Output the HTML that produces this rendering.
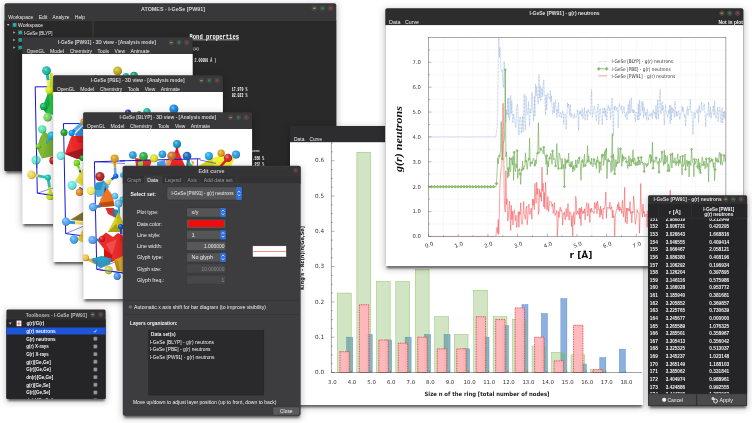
<!DOCTYPE html><html><head><meta charset="utf-8"><title>ATOMES</title><style>html,body{margin:0;padding:0;background:#fff;overflow:hidden}svg{display:block}</style></head><body>
<svg width="752" height="423" viewBox="0 0 752 423">
<defs><filter id="sh" x="-10%" y="-10%" width="120%" height="120%"><feGaussianBlur stdDeviation="1.3"/></filter><filter id="sh2" x="-10%" y="-10%" width="120%" height="120%"><feGaussianBlur stdDeviation="3.5"/></filter><radialGradient id="sph" cx="0.38" cy="0.35" r="0.7"><stop offset="0" stop-color="#fff" stop-opacity="0.45"/><stop offset="0.45" stop-color="#fff" stop-opacity="0"/><stop offset="0.8" stop-color="#000" stop-opacity="0.12"/><stop offset="1" stop-color="#000" stop-opacity="0.4"/></radialGradient></defs>
<rect x="0.00" y="0.00" width="752.00" height="423.00" fill="#fff" />
<rect x="3.50" y="4.20" width="333.70" height="169.80" fill="#000" opacity="0.22" filter="url(#sh2)"/>
<rect x="6.00" y="5.20" width="329.20" height="168.00" fill="#000" opacity="0.55" filter="url(#sh)"/>
<rect x="4.5" y="3.2" width="331.7" height="167.8" rx="2" fill="#38383a"/>
<rect x="4.50" y="20.40" width="331.70" height="150.60" fill="#29292a" />
<rect x="4.50" y="20.10" width="331.70" height="0.50" fill="#454547" />
<rect x="92.40" y="20.60" width="1.20" height="150.40" fill="#3c3c3e" />
<text x="173.00" y="10.80" font-size="6.1" fill="#d4d4d4" text-anchor="middle" font-weight="bold" font-family='"Liberation Sans", sans-serif' textLength="64.00" lengthAdjust="spacingAndGlyphs" >ATOMES - l-GeSe [PW91]</text>
<circle cx="314.40" cy="8.20" r="2.65" fill="#424244" stroke="#525256" stroke-width="0.45"/>
<rect x="313.07" y="7.54" width="2.65" height="1.46" fill="#a88a34"/>
<circle cx="322.50" cy="8.20" r="2.65" fill="#424244" stroke="#525256" stroke-width="0.45"/>
<circle cx="322.50" cy="8.20" r="1.22" fill="#2f8f3a"/>
<circle cx="330.50" cy="8.20" r="2.65" fill="#424244" stroke="#525256" stroke-width="0.45"/>
<circle cx="330.50" cy="8.20" r="1.22" fill="#b0323a"/>
<text x="8.30" y="18.90" font-size="6.1" fill="#ececec" text-anchor="start" font-weight="normal" font-family='"Liberation Sans", sans-serif' textLength="24.90" lengthAdjust="spacingAndGlyphs" >Workspace</text>
<text x="38.80" y="18.90" font-size="6.1" fill="#ececec" text-anchor="start" font-weight="normal" font-family='"Liberation Sans", sans-serif' textLength="8.60" lengthAdjust="spacingAndGlyphs" >Edit</text>
<text x="52.60" y="18.90" font-size="6.1" fill="#ececec" text-anchor="start" font-weight="normal" font-family='"Liberation Sans", sans-serif' textLength="16.90" lengthAdjust="spacingAndGlyphs" >Analyze</text>
<text x="74.80" y="18.90" font-size="6.1" fill="#ececec" text-anchor="start" font-weight="normal" font-family='"Liberation Sans", sans-serif' textLength="10.20" lengthAdjust="spacingAndGlyphs" >Help</text>
<path d="M6.8 24 L9.6 24 L8.2 26 Z" fill="#bbb"/>
<circle cx="14.6" cy="24.9" r="2.1" fill="#18b0b0"/>
<circle cx="12.7" cy="23.0" r="0.6" fill="#c03030"/>
<circle cx="16.5" cy="23.0" r="0.6" fill="#c03030"/>
<circle cx="12.7" cy="26.799999999999997" r="0.6" fill="#c03030"/>
<circle cx="16.5" cy="26.799999999999997" r="0.6" fill="#c03030"/>
<text x="18.00" y="27.00" font-size="6.1" fill="#f0f0f0" text-anchor="start" font-weight="normal" font-family='"Liberation Sans", sans-serif' textLength="25.00" lengthAdjust="spacingAndGlyphs" >Workspace</text>
<path d="M13.3 31.2 L15.3 32.5 L13.3 33.8 Z" fill="#bbb"/>
<circle cx="20.3" cy="32.5" r="2.1" fill="#18b0b0"/>
<circle cx="18.400000000000002" cy="30.6" r="0.6" fill="#c03030"/>
<circle cx="22.2" cy="30.6" r="0.6" fill="#c03030"/>
<circle cx="18.400000000000002" cy="34.4" r="0.6" fill="#c03030"/>
<circle cx="22.2" cy="34.4" r="0.6" fill="#c03030"/>
<path d="M13.3 38.7 L15.3 40 L13.3 41.3 Z" fill="#bbb"/>
<circle cx="20.3" cy="40" r="2.1" fill="#18b0b0"/>
<circle cx="18.400000000000002" cy="38.1" r="0.6" fill="#c03030"/>
<circle cx="22.2" cy="38.1" r="0.6" fill="#c03030"/>
<circle cx="18.400000000000002" cy="41.9" r="0.6" fill="#c03030"/>
<circle cx="22.2" cy="41.9" r="0.6" fill="#c03030"/>
<path d="M13.3 46.2 L15.3 47.5 L13.3 48.8 Z" fill="#bbb"/>
<circle cx="20.3" cy="47.5" r="2.1" fill="#18b0b0"/>
<circle cx="18.400000000000002" cy="45.6" r="0.6" fill="#c03030"/>
<circle cx="22.2" cy="45.6" r="0.6" fill="#c03030"/>
<circle cx="18.400000000000002" cy="49.4" r="0.6" fill="#c03030"/>
<circle cx="22.2" cy="49.4" r="0.6" fill="#c03030"/>
<text x="24.00" y="34.60" font-size="6.1" fill="#f0f0f0" text-anchor="start" font-weight="normal" font-family='"Liberation Sans", sans-serif' textLength="28.50" lengthAdjust="spacingAndGlyphs" >l-GeSe [BLYP]</text>
<text x="189.50" y="38.90" font-size="7" fill="#ffffff" text-anchor="start" font-weight="bold" font-family='"Liberation Mono", "DejaVu Sans Mono", monospace' textLength="49.50" lengthAdjust="spacingAndGlyphs" >Bond properties</text>
<rect x="189.50" y="39.60" width="49.50" height="0.60" fill="#f4f4f4" />
<text x="193.00" y="49.80" font-size="4.4" fill="#eee" text-anchor="start" font-weight="bold" font-family='"Liberation Mono", "DejaVu Sans Mono", monospace' textLength="6.00" lengthAdjust="spacingAndGlyphs" >(Å)</text>
<text x="194.50" y="61.80" font-size="4.6" fill="#eee" text-anchor="start" font-weight="bold" font-family='"Liberation Mono", "DejaVu Sans Mono", monospace' textLength="21.70" lengthAdjust="spacingAndGlyphs" >2.00000 Å )</text>
<text x="231.70" y="91.00" font-size="4.6" fill="#fff" text-anchor="start" font-weight="bold" font-family='"Liberation Mono", "DejaVu Sans Mono", monospace' textLength="15.70" lengthAdjust="spacingAndGlyphs" >17.979 %</text>
<text x="231.70" y="96.80" font-size="4.6" fill="#fff" text-anchor="start" font-weight="bold" font-family='"Liberation Mono", "DejaVu Sans Mono", monospace' textLength="15.70" lengthAdjust="spacingAndGlyphs" >82.022 %</text>
<text x="252.00" y="151.60" font-size="4.4" fill="#eee" text-anchor="start" font-weight="bold" font-family='"Liberation Mono", "DejaVu Sans Mono", monospace' textLength="8.00" lengthAdjust="spacingAndGlyphs" >cent</text>
<text x="252.60" y="160.00" font-size="4.6" fill="#fff" text-anchor="start" font-weight="bold" font-family='"Liberation Mono", "DejaVu Sans Mono", monospace' textLength="11.50" lengthAdjust="spacingAndGlyphs" >.556 %</text>
<text x="252.60" y="165.60" font-size="4.6" fill="#fff" text-anchor="start" font-weight="bold" font-family='"Liberation Mono", "DejaVu Sans Mono", monospace' textLength="11.50" lengthAdjust="spacingAndGlyphs" >.852 %</text>
<rect x="21.10" y="38.30" width="172.60" height="188.70" fill="#000" opacity="0.22" filter="url(#sh2)"/>
<rect x="23.60" y="39.30" width="168.10" height="186.90" fill="#000" opacity="0.55" filter="url(#sh)"/>
<rect x="22.1" y="37.3" width="170.6" height="186.7" rx="1.5" fill="#38383a"/>
<rect x="22.10" y="54.00" width="170.60" height="170.00" fill="#fff" />
<text x="106.90" y="44.30" font-size="6.1" fill="#d0d0d0" text-anchor="middle" font-weight="bold" font-family='"Liberation Sans", sans-serif' textLength="98.00" lengthAdjust="spacingAndGlyphs" >l-GeSe [PW91] - 3D view - [Analysis mode]</text>
<circle cx="171.20" cy="42.50" r="2.45" fill="#424244" stroke="#525256" stroke-width="0.45"/>
<rect x="169.97" y="41.89" width="2.45" height="1.35" fill="#a88a34"/>
<circle cx="179.00" cy="42.50" r="2.45" fill="#424244" stroke="#525256" stroke-width="0.45"/>
<circle cx="179.00" cy="42.50" r="1.13" fill="#2f8f3a"/>
<circle cx="186.70" cy="42.50" r="2.45" fill="#424244" stroke="#525256" stroke-width="0.45"/>
<circle cx="186.70" cy="42.50" r="1.13" fill="#b0323a"/>
<text x="26.80" y="52.60" font-size="6.1" fill="#ececec" text-anchor="start" font-weight="normal" font-family='"Liberation Sans", sans-serif' textLength="18.00" lengthAdjust="spacingAndGlyphs" >OpenGL</text>
<text x="50.10" y="52.60" font-size="6.1" fill="#ececec" text-anchor="start" font-weight="normal" font-family='"Liberation Sans", sans-serif' textLength="14.00" lengthAdjust="spacingAndGlyphs" >Model</text>
<text x="69.70" y="52.60" font-size="6.1" fill="#ececec" text-anchor="start" font-weight="normal" font-family='"Liberation Sans", sans-serif' textLength="22.30" lengthAdjust="spacingAndGlyphs" >Chemistry</text>
<text x="97.60" y="52.60" font-size="6.1" fill="#ececec" text-anchor="start" font-weight="normal" font-family='"Liberation Sans", sans-serif' textLength="11.40" lengthAdjust="spacingAndGlyphs" >Tools</text>
<text x="114.60" y="52.60" font-size="6.1" fill="#ececec" text-anchor="start" font-weight="normal" font-family='"Liberation Sans", sans-serif' textLength="10.50" lengthAdjust="spacingAndGlyphs" >View</text>
<text x="130.50" y="52.60" font-size="6.1" fill="#ececec" text-anchor="start" font-weight="normal" font-family='"Liberation Sans", sans-serif' textLength="19.30" lengthAdjust="spacingAndGlyphs" >Animate</text>
<clipPath id="cl1"><rect x="22.1" y="54.0" width="170.6" height="170.0"/></clipPath><g clip-path="url(#cl1)">
<polyline points="54,86.8 35.2,86.8 37.3,193.2 54,195.6" fill="none" stroke="#1616dc" stroke-width="1.0"/>
<polyline points="37.3,193.2 54,187.6" fill="none" stroke="#1616dc" stroke-width="0.5"/>
<line x1="51" y1="73" x2="51.5" y2="86.5" stroke="#c8e828" stroke-width="3.2"/>
<line x1="51.5" y1="86.5" x2="52" y2="100" stroke="#e0f020" stroke-width="3.2"/>
<line x1="46.8" y1="71" x2="48.0" y2="80.3" stroke="#28b0b0" stroke-width="2.8"/>
<line x1="48.0" y1="80.3" x2="49" y2="88" stroke="#f0f060" stroke-width="2.8"/>
<circle cx="46.5" cy="70.6" r="4.4" fill="#20b8a8"/>
<circle cx="46.5" cy="70.6" r="4.4" fill="url(#sph)"/>
<polygon points="48,93 52,93 54,100 54,115 47,114 42,108 46,102" fill="#18c038" opacity="0.9"/>
<polygon points="48,93 50,104 46,113 42,108" fill="#10a848" opacity="0.9"/>
<circle cx="49.6" cy="90.0" r="4.2" fill="#dcf010"/>
<circle cx="49.6" cy="90.0" r="4.2" fill="url(#sph)"/>
<circle cx="43.6" cy="106.4" r="3.6" fill="#10b050"/>
<circle cx="43.6" cy="106.4" r="3.6" fill="url(#sph)"/>
<circle cx="47.6" cy="117.2" r="4.3" fill="#78d860"/>
<circle cx="47.6" cy="117.2" r="4.3" fill="url(#sph)"/>
<circle cx="42.2" cy="129.3" r="4.1" fill="#58e8b0"/>
<circle cx="42.2" cy="129.3" r="4.1" fill="url(#sph)"/>
<polygon points="44,131 54,139 54,156 42,158.5 37,148 40,138" fill="#68a820" opacity="0.9"/>
<polygon points="44,131 47,145 42,158.5 37,148" fill="#82ba34" opacity="0.9"/>
<line x1="47" y1="143" x2="51" y2="137" stroke="#30a0d0" stroke-width="2" stroke-linecap="round"/>
<circle cx="51.7" cy="135.5" r="4.1" fill="#18c0e8"/>
<circle cx="51.7" cy="135.5" r="4.1" fill="url(#sph)"/>
<circle cx="38.5" cy="146.0" r="2.6" fill="#78c820"/>
<circle cx="38.5" cy="146.0" r="2.6" fill="url(#sph)"/>
<circle cx="36.0" cy="160.0" r="4.6" fill="#68e8c8"/>
<circle cx="36.0" cy="160.0" r="4.6" fill="url(#sph)"/>
<polyline points="36.6,152 36.9,168" fill="none" stroke="#1616dc" stroke-width="0.7"/>
<circle cx="53.4" cy="160.5" r="4" fill="#d81818"/>
<circle cx="53.4" cy="160.5" r="4" fill="url(#sph)"/>
<line x1="31.4" y1="174.8" x2="38.0" y2="175.9" stroke="#f0d050" stroke-width="2.8"/>
<line x1="38.0" y1="175.9" x2="47.9" y2="177.6" stroke="#30c0b0" stroke-width="2.8"/>
<line x1="47.9" y1="177.6" x2="49.5" y2="187.4" stroke="#30c0b0" stroke-width="2.8"/>
<line x1="49.5" y1="187.4" x2="50.6" y2="194" stroke="#d0e020" stroke-width="2.8"/>
<circle cx="31.4" cy="174.8" r="4.3" fill="#f0d458"/>
<circle cx="31.4" cy="174.8" r="4.3" fill="url(#sph)"/>
<circle cx="47.9" cy="177.6" r="3" fill="#18c8b8"/>
<circle cx="47.9" cy="177.6" r="3" fill="url(#sph)"/>
<circle cx="50.3" cy="196.0" r="4.1" fill="#d0e818"/>
<circle cx="50.3" cy="196.0" r="4.1" fill="url(#sph)"/>
<polyline points="44,194.2 54,195.6" fill="none" stroke="#1616dc" stroke-width="0.7"/>
<circle cx="117.6" cy="70.9" r="4.4" fill="#c8b020"/>
<circle cx="117.6" cy="70.9" r="4.4" fill="url(#sph)"/>
<circle cx="126.0" cy="76.0" r="3.1" fill="#20b890"/>
<circle cx="126.0" cy="76.0" r="3.1" fill="url(#sph)"/>
<circle cx="134.0" cy="75.6" r="3.8" fill="#18a878"/>
<circle cx="134.0" cy="75.6" r="3.8" fill="url(#sph)"/>
<circle cx="95.4" cy="76.6" r="1.8" fill="#30c0a0"/>
<circle cx="95.4" cy="76.6" r="1.8" fill="url(#sph)"/>
</g>
<rect x="52.10" y="76.30" width="171.80" height="188.70" fill="#000" opacity="0.22" filter="url(#sh2)"/>
<rect x="54.60" y="77.30" width="167.30" height="186.90" fill="#000" opacity="0.55" filter="url(#sh)"/>
<rect x="53.1" y="75.3" width="169.8" height="186.7" rx="1.5" fill="#38383a"/>
<rect x="53.10" y="92.00" width="169.80" height="170.00" fill="#fff" />
<text x="137.75" y="82.30" font-size="6.1" fill="#d0d0d0" text-anchor="middle" font-weight="bold" font-family='"Liberation Sans", sans-serif' textLength="93.70" lengthAdjust="spacingAndGlyphs" >l-GeSe [PBE] - 3D view - [Analysis mode]</text>
<circle cx="201.40" cy="80.50" r="2.45" fill="#424244" stroke="#525256" stroke-width="0.45"/>
<rect x="200.18" y="79.89" width="2.45" height="1.35" fill="#a88a34"/>
<circle cx="209.20" cy="80.50" r="2.45" fill="#424244" stroke="#525256" stroke-width="0.45"/>
<circle cx="209.20" cy="80.50" r="1.13" fill="#2f8f3a"/>
<circle cx="216.90" cy="80.50" r="2.45" fill="#424244" stroke="#525256" stroke-width="0.45"/>
<circle cx="216.90" cy="80.50" r="1.13" fill="#b0323a"/>
<text x="57.00" y="90.60" font-size="6.1" fill="#ececec" text-anchor="start" font-weight="normal" font-family='"Liberation Sans", sans-serif' textLength="18.00" lengthAdjust="spacingAndGlyphs" >OpenGL</text>
<text x="80.30" y="90.60" font-size="6.1" fill="#ececec" text-anchor="start" font-weight="normal" font-family='"Liberation Sans", sans-serif' textLength="14.00" lengthAdjust="spacingAndGlyphs" >Model</text>
<text x="99.90" y="90.60" font-size="6.1" fill="#ececec" text-anchor="start" font-weight="normal" font-family='"Liberation Sans", sans-serif' textLength="22.30" lengthAdjust="spacingAndGlyphs" >Chemistry</text>
<text x="127.80" y="90.60" font-size="6.1" fill="#ececec" text-anchor="start" font-weight="normal" font-family='"Liberation Sans", sans-serif' textLength="11.40" lengthAdjust="spacingAndGlyphs" >Tools</text>
<text x="144.80" y="90.60" font-size="6.1" fill="#ececec" text-anchor="start" font-weight="normal" font-family='"Liberation Sans", sans-serif' textLength="10.50" lengthAdjust="spacingAndGlyphs" >View</text>
<text x="160.70" y="90.60" font-size="6.1" fill="#ececec" text-anchor="start" font-weight="normal" font-family='"Liberation Sans", sans-serif' textLength="19.30" lengthAdjust="spacingAndGlyphs" >Animate</text>
<clipPath id="cl2"><rect x="53.1" y="92.0" width="169.8" height="170.0"/></clipPath><g clip-path="url(#cl2)">
<polyline points="84,123.6 63.5,123.6 65.7,233.6 84,236" fill="none" stroke="#1616dc" stroke-width="1.0"/>
<polyline points="65.7,233.6 84,226" fill="none" stroke="#1616dc" stroke-width="0.5"/>
<polygon points="75,134 84,125 84,143 78,143" fill="#2080d0" opacity="0.9"/>
<line x1="71.6" y1="133" x2="75.0" y2="129.8" stroke="#2878d0" stroke-width="3.4"/>
<line x1="75.0" y1="129.8" x2="83" y2="122.4" stroke="#58b0f8" stroke-width="3.4"/>
<circle cx="83.4" cy="121.6" r="3" fill="#e0a020"/>
<circle cx="83.4" cy="121.6" r="3" fill="url(#sph)"/>
<circle cx="64.0" cy="132.6" r="3.5" fill="#20a030"/>
<circle cx="64.0" cy="132.6" r="3.5" fill="url(#sph)"/>
<circle cx="71.6" cy="133.0" r="3.1" fill="#1090f8"/>
<circle cx="71.6" cy="133.0" r="3.1" fill="url(#sph)"/>
<polygon points="71.5,136 65,154 76,158.5 84,160 84,136" fill="#ea1010" opacity="0.9"/>
<polygon points="65,154 84,148 84,160 76,158.5" fill="#a01820" opacity="0.9"/>
<polygon points="71.5,136 73,150 65,154" fill="#f03030" opacity="0.9"/>
<circle cx="60.7" cy="155.8" r="4.2" fill="#78ece4"/>
<circle cx="60.7" cy="155.8" r="4.2" fill="url(#sph)"/>
<circle cx="82.5" cy="158.0" r="3" fill="#18a828"/>
<circle cx="82.5" cy="158.0" r="3" fill="url(#sph)"/>
<circle cx="76.8" cy="163.0" r="3.2" fill="#70d818"/>
<circle cx="76.8" cy="163.0" r="3.2" fill="url(#sph)"/>
<line x1="77.6" y1="165" x2="79.0" y2="168.5" stroke="#70d818" stroke-width="2.2"/>
<line x1="79.0" y1="168.5" x2="80.5" y2="172" stroke="#c0e040" stroke-width="2.2"/>
<line x1="80" y1="171" x2="82" y2="176" stroke="#1860c0" stroke-width="2" stroke-linecap="round"/>
<polygon points="84,167 75,181 84,187" fill="#f0d818" opacity="0.9"/>
<polygon points="84,167 79,176 84,180" fill="#f8e850" opacity="0.9"/>
<line x1="74" y1="184" x2="78" y2="181" stroke="#90f0f0" stroke-width="2" stroke-linecap="round"/>
<circle cx="72.0" cy="185.2" r="4.5" fill="#70e8e0"/>
<circle cx="72.0" cy="185.2" r="4.5" fill="url(#sph)"/>
<line x1="80" y1="188" x2="83" y2="190" stroke="#1860c0" stroke-width="2" stroke-linecap="round"/>
<circle cx="79.6" cy="192.3" r="3.8" fill="#e89020"/>
<circle cx="79.6" cy="192.3" r="3.8" fill="url(#sph)"/>
<polygon points="70,220 84,211.5 84,221" fill="#786410" opacity="0.9"/>
<line x1="66" y1="222" x2="75.0" y2="222.8" stroke="#3090e8" stroke-width="3"/>
<line x1="75.0" y1="222.8" x2="84" y2="223.6" stroke="#f0e060" stroke-width="3"/>
<circle cx="66.0" cy="221.6" r="4.2" fill="#58a8f4"/>
<circle cx="66.0" cy="221.6" r="4.2" fill="url(#sph)"/>
<polygon points="84,228 77,240 84,243" fill="#e8c820" opacity="0.9"/>
<circle cx="74.0" cy="239.5" r="4.2" fill="#48a8f4"/>
<circle cx="74.0" cy="239.5" r="4.2" fill="url(#sph)"/>
<circle cx="173.9" cy="109.0" r="4.5" fill="#1888e0"/>
<circle cx="173.9" cy="109.0" r="4.5" fill="url(#sph)"/>
<circle cx="146.9" cy="111.5" r="3.6" fill="#20b8a0"/>
<circle cx="146.9" cy="111.5" r="3.6" fill="url(#sph)"/>
<circle cx="128.0" cy="112.4" r="3" fill="#2038c0"/>
<circle cx="128.0" cy="112.4" r="3" fill="url(#sph)"/>
<circle cx="139.0" cy="113.0" r="2" fill="#30a040"/>
<circle cx="139.0" cy="113.0" r="2" fill="url(#sph)"/>
</g>
<rect x="82.10" y="113.30" width="171.00" height="188.80" fill="#000" opacity="0.22" filter="url(#sh2)"/>
<rect x="84.60" y="114.30" width="166.50" height="187.00" fill="#000" opacity="0.55" filter="url(#sh)"/>
<rect x="83.1" y="112.3" width="169.0" height="186.8" rx="1.5" fill="#38383a"/>
<rect x="83.10" y="129.00" width="169.00" height="170.10" fill="#fff" />
<text x="167.80" y="119.30" font-size="6.1" fill="#d0d0d0" text-anchor="middle" font-weight="bold" font-family='"Liberation Sans", sans-serif' textLength="96.40" lengthAdjust="spacingAndGlyphs" >l-GeSe [BLYP] - 3D view - [Analysis mode]</text>
<circle cx="230.60" cy="117.50" r="2.45" fill="#424244" stroke="#525256" stroke-width="0.45"/>
<rect x="229.38" y="116.89" width="2.45" height="1.35" fill="#a88a34"/>
<circle cx="238.40" cy="117.50" r="2.45" fill="#424244" stroke="#525256" stroke-width="0.45"/>
<circle cx="238.40" cy="117.50" r="1.13" fill="#2f8f3a"/>
<circle cx="246.10" cy="117.50" r="2.45" fill="#424244" stroke="#525256" stroke-width="0.45"/>
<circle cx="246.10" cy="117.50" r="1.13" fill="#b0323a"/>
<text x="87.10" y="127.60" font-size="6.1" fill="#ececec" text-anchor="start" font-weight="normal" font-family='"Liberation Sans", sans-serif' textLength="18.00" lengthAdjust="spacingAndGlyphs" >OpenGL</text>
<text x="110.40" y="127.60" font-size="6.1" fill="#ececec" text-anchor="start" font-weight="normal" font-family='"Liberation Sans", sans-serif' textLength="14.00" lengthAdjust="spacingAndGlyphs" >Model</text>
<text x="130.00" y="127.60" font-size="6.1" fill="#ececec" text-anchor="start" font-weight="normal" font-family='"Liberation Sans", sans-serif' textLength="22.30" lengthAdjust="spacingAndGlyphs" >Chemistry</text>
<text x="157.90" y="127.60" font-size="6.1" fill="#ececec" text-anchor="start" font-weight="normal" font-family='"Liberation Sans", sans-serif' textLength="11.40" lengthAdjust="spacingAndGlyphs" >Tools</text>
<text x="174.90" y="127.60" font-size="6.1" fill="#ececec" text-anchor="start" font-weight="normal" font-family='"Liberation Sans", sans-serif' textLength="10.50" lengthAdjust="spacingAndGlyphs" >View</text>
<text x="190.80" y="127.60" font-size="6.1" fill="#ececec" text-anchor="start" font-weight="normal" font-family='"Liberation Sans", sans-serif' textLength="19.30" lengthAdjust="spacingAndGlyphs" >Animate</text>
<clipPath id="cl3"><rect x="83.1" y="129.0" width="169.0" height="170.10000000000002"/></clipPath><g clip-path="url(#cl3)">
<polygon points="177,148 166,166 185,166" fill="#ea1010" opacity="0.9"/>
<line x1="177" y1="146" x2="177" y2="152" stroke="#ea1010" stroke-width="2.4" stroke-linecap="round"/>
<polygon points="135,158 152,160 150,166 136,166" fill="#e01818" opacity="0.9"/>
<polygon points="138,162 143,161 143,166 138,166" fill="#90e040" opacity="0.9"/>
<polygon points="157,162 165,160 166,166 157,166" fill="#3890e8" opacity="0.9"/>
<polygon points="166,160 172,160 170,166 166,166" fill="#f0a060" opacity="0.9"/>
<polygon points="199,166 212,158 224,155 235,158 231,166" fill="#f0f020" opacity="0.9"/>
<polygon points="199,166 212,158 214,166" fill="#d8d818" opacity="0.9"/>
<polygon points="187,160 190,160 189,166 186,166" fill="#2060c0" opacity="0.9"/>
<polygon points="189,161 193,166 188,166" fill="#30c050" opacity="0.9"/>
<polygon points="191,160 194,162 193,166" fill="#f0a020" opacity="0.9"/>
<polyline points="120,160.9 197.5,158.8 200.5,158.9" fill="none" stroke="#1616dc" stroke-width="1"/>
<polyline points="200,160 216,163.4" fill="none" stroke="#1616dc" stroke-width="0.6"/>
<polyline points="197.5,158.8 197.5,166" fill="none" stroke="#1616dc" stroke-width="0.8"/>
<polyline points="94.4,161.8 125,163.6" fill="none" stroke="#1616dc" stroke-width="0.5"/>
<line x1="228" y1="158" x2="221" y2="166" stroke="#e82010" stroke-width="2.6" stroke-linecap="round"/>
<circle cx="132.8" cy="155.1" r="3.8" fill="#28a0d8"/>
<circle cx="132.8" cy="155.1" r="3.8" fill="url(#sph)"/>
<circle cx="143.5" cy="156.3" r="4.3" fill="#28b040"/>
<circle cx="143.5" cy="156.3" r="4.3" fill="url(#sph)"/>
<circle cx="154.0" cy="158.3" r="4" fill="#e0e020"/>
<circle cx="154.0" cy="158.3" r="4" fill="url(#sph)"/>
<circle cx="162.4" cy="154.2" r="3.8" fill="#28a0e0"/>
<circle cx="162.4" cy="154.2" r="3.8" fill="url(#sph)"/>
<circle cx="171.7" cy="156.0" r="4.5" fill="#c87030"/>
<circle cx="171.7" cy="156.0" r="4.5" fill="url(#sph)"/>
<circle cx="177.0" cy="143.9" r="4" fill="#1898d0"/>
<circle cx="177.0" cy="143.9" r="4" fill="url(#sph)"/>
<circle cx="187.0" cy="156.0" r="4.3" fill="#2068c0"/>
<circle cx="187.0" cy="156.0" r="4.3" fill="url(#sph)"/>
<circle cx="208.9" cy="156.0" r="4" fill="#20a8f0"/>
<circle cx="208.9" cy="156.0" r="4" fill="url(#sph)"/>
<circle cx="221.1" cy="153.2" r="3.6" fill="#e0a018"/>
<circle cx="221.1" cy="153.2" r="3.6" fill="url(#sph)"/>
<circle cx="228.0" cy="157.9" r="4.2" fill="#d02828"/>
<circle cx="228.0" cy="157.9" r="4.2" fill="url(#sph)"/>
<circle cx="236.0" cy="154.6" r="4" fill="#28a0e0"/>
<circle cx="236.0" cy="154.6" r="4" fill="url(#sph)"/>
<polyline points="125,160.8 94.4,161.8 96.8,269.4 123.4,273" fill="none" stroke="#1616dc" stroke-width="1.0"/>
<polyline points="96.8,269.4 115,262" fill="none" stroke="#1616dc" stroke-width="0.5"/>
<line x1="114.6" y1="160" x2="115.0" y2="167.5" stroke="#d8a020" stroke-width="2.6"/>
<line x1="115.0" y1="167.5" x2="115.4" y2="175" stroke="#60a8f0" stroke-width="2.6"/>
<line x1="115.7" y1="176" x2="111.4" y2="179.6" stroke="#1858d0" stroke-width="2.4"/>
<line x1="111.4" y1="179.6" x2="108.5" y2="182" stroke="#e8e060" stroke-width="2.4"/>
<circle cx="114.6" cy="158.5" r="4" fill="#d8a020"/>
<circle cx="114.6" cy="158.5" r="4" fill="url(#sph)"/>
<circle cx="115.7" cy="176.0" r="2.6" fill="#1060f0"/>
<circle cx="115.7" cy="176.0" r="2.6" fill="url(#sph)"/>
<circle cx="122.6" cy="175.0" r="2.6" fill="#30c0e8"/>
<circle cx="122.6" cy="175.0" r="2.6" fill="url(#sph)"/>
<circle cx="108.0" cy="182.4" r="2.5" fill="#e8e060"/>
<circle cx="108.0" cy="182.4" r="2.5" fill="url(#sph)"/>
<line x1="102" y1="180" x2="106" y2="185" stroke="#f09090" stroke-width="2.2" stroke-linecap="round"/>
<polygon points="96,183 104,181 109,186 106,196 97,197 94,190" fill="#38a0d8" opacity="0.9"/>
<polygon points="96,183 104,181 101,190 94,190" fill="#2890c8" opacity="0.9"/>
<polygon points="105,186 108,196 104,196" fill="#182028" opacity="0.9"/>
<circle cx="99.9" cy="176.6" r="4.6" fill="#b02828"/>
<circle cx="99.9" cy="176.6" r="4.6" fill="url(#sph)"/>
<circle cx="91.0" cy="190.8" r="4.2" fill="#f0f060"/>
<circle cx="91.0" cy="190.8" r="4.2" fill="url(#sph)"/>
<polygon points="107,188 97,207.5 114.5,206 113,196" fill="#e86010" opacity="0.9"/>
<polygon points="97,207.5 114.5,206 113,201 100,203" fill="#b84808" opacity="0.9"/>
<polygon points="107,188 110,197 104,202 100,200" fill="#f07820" opacity="0.9"/>
<line x1="93" y1="207" x2="100" y2="206" stroke="#3080e0" stroke-width="2.6" stroke-linecap="round"/>
<circle cx="93.0" cy="207.0" r="4.2" fill="#58a8f4"/>
<circle cx="93.0" cy="207.0" r="4.2" fill="url(#sph)"/>
<circle cx="115.0" cy="196.0" r="3.2" fill="#58c0f0"/>
<circle cx="115.0" cy="196.0" r="3.2" fill="url(#sph)"/>
<circle cx="118.4" cy="203.6" r="4" fill="#70c0f0"/>
<circle cx="118.4" cy="203.6" r="4" fill="url(#sph)"/>
<circle cx="122.4" cy="199.6" r="3" fill="#38c0e8"/>
<circle cx="122.4" cy="199.6" r="3" fill="url(#sph)"/>
<polygon points="105.5,208 114,208 116,218 108,214" fill="#d81818" opacity="0.9"/>
<polygon points="112,209 120,210 119,219 114,217" fill="#2080a0" opacity="0.9"/>
<line x1="119" y1="207" x2="119" y2="213" stroke="#30b0e0" stroke-width="2" stroke-linecap="round"/>
<polygon points="118.5,212 123,222 121,232 108,232" fill="#c8c010" opacity="0.9"/>
<polygon points="118.5,212 116,224 108,232" fill="#dcd428" opacity="0.9"/>
<polygon points="108,232 121,232 116,224" fill="#a8a010" opacity="0.9"/>
<line x1="121" y1="227" x2="121.2" y2="234.2" stroke="#1850e0" stroke-width="2.4"/>
<line x1="121.2" y1="234.2" x2="121.4" y2="243" stroke="#f08080" stroke-width="2.4"/>
<circle cx="120.7" cy="226.7" r="2.6" fill="#1850e0"/>
<circle cx="120.7" cy="226.7" r="2.6" fill="url(#sph)"/>
<polygon points="97,240 106,232.5 113,237 118,233 123.4,236 123.4,257 112,262 104,258 104,249" fill="#e81414" opacity="0.9"/>
<polygon points="106,244 117,239 112,255" fill="#f25050" opacity="0.9"/>
<polygon points="104,249 112,255 112,262 104,258" fill="#d01010" opacity="0.9"/>
<line x1="93" y1="240" x2="100" y2="240" stroke="#2878e0" stroke-width="2.6" stroke-linecap="round"/>
<circle cx="92.5" cy="240.0" r="4.1" fill="#58a0f4"/>
<circle cx="92.5" cy="240.0" r="4.1" fill="url(#sph)"/>
<circle cx="102.0" cy="239.0" r="3" fill="#d81818"/>
<circle cx="102.0" cy="239.0" r="3" fill="url(#sph)"/>
<line x1="86" y1="258" x2="94" y2="262.5" stroke="#e8b030" stroke-width="2.6" stroke-linecap="round"/>
<circle cx="85.6" cy="257.7" r="3.5" fill="#f0c040"/>
<circle cx="85.6" cy="257.7" r="3.5" fill="url(#sph)"/>
<polygon points="91,259 102,256 112,259 110,264 100,268 94,263" fill="#2088b0" opacity="0.9"/>
<polygon points="91,259 102,256 112,259 101,262" fill="#2ea0c8" opacity="0.9"/>
<polygon points="114,260 123.4,255.5 123.4,272 117,271" fill="#d8a018" opacity="0.9"/>
<polygon points="114,260 118,261 120,271 117,271" fill="#b88810" opacity="0.9"/>
<circle cx="108.5" cy="270.0" r="4.2" fill="#d0d040"/>
<circle cx="108.5" cy="270.0" r="4.2" fill="url(#sph)"/>
<polyline points="100,269.9 123.4,273" fill="none" stroke="#1616dc" stroke-width="0.7"/>
<circle cx="117.2" cy="276.3" r="3.6" fill="#4898f0"/>
<circle cx="117.2" cy="276.3" r="3.6" fill="url(#sph)"/>
</g>
<rect x="289.00" y="127.00" width="355.00" height="281.00" fill="#000" opacity="0.22" filter="url(#sh2)"/>
<rect x="291.50" y="128.00" width="350.50" height="279.20" fill="#000" opacity="0.55" filter="url(#sh)"/>
<rect x="290" y="126" width="353" height="279" rx="1.5" fill="#2d2d2f"/>
<rect x="290.00" y="142.20" width="353.00" height="262.80" fill="#fff" />
<text x="294.00" y="141.00" font-size="5.89" fill="#ececec" text-anchor="start" font-weight="normal" font-family='"Liberation Sans", sans-serif' textLength="10.40" lengthAdjust="spacingAndGlyphs" >Data</text>
<text x="309.60" y="141.00" font-size="5.89" fill="#ececec" text-anchor="start" font-weight="normal" font-family='"Liberation Sans", sans-serif' textLength="12.40" lengthAdjust="spacingAndGlyphs" >Curve</text>
<rect x="346.70" y="337.20" width="6" height="35.30" fill="#8db1de" stroke="#5b8fd0" stroke-width="0.5"/>
<rect x="366.17" y="334.38" width="6" height="38.12" fill="#8db1de" stroke="#5b8fd0" stroke-width="0.5"/>
<rect x="385.64" y="340.02" width="6" height="32.48" fill="#8db1de" stroke="#5b8fd0" stroke-width="0.5"/>
<rect x="405.11" y="337.20" width="6" height="35.30" fill="#8db1de" stroke="#5b8fd0" stroke-width="0.5"/>
<rect x="424.58" y="334.38" width="6" height="38.12" fill="#8db1de" stroke="#5b8fd0" stroke-width="0.5"/>
<rect x="444.05" y="334.38" width="6" height="38.12" fill="#8db1de" stroke="#5b8fd0" stroke-width="0.5"/>
<rect x="463.52" y="348.85" width="6" height="23.65" fill="#8db1de" stroke="#5b8fd0" stroke-width="0.5"/>
<rect x="482.99" y="337.20" width="6" height="35.30" fill="#8db1de" stroke="#5b8fd0" stroke-width="0.5"/>
<rect x="502.46" y="325.55" width="6" height="46.95" fill="#8db1de" stroke="#5b8fd0" stroke-width="0.5"/>
<rect x="521.93" y="304.72" width="6" height="67.78" fill="#8db1de" stroke="#5b8fd0" stroke-width="0.5"/>
<rect x="541.40" y="313.55" width="6" height="58.95" fill="#8db1de" stroke="#5b8fd0" stroke-width="0.5"/>
<rect x="560.87" y="298.72" width="6" height="73.78" fill="#8db1de" stroke="#5b8fd0" stroke-width="0.5"/>
<rect x="580.34" y="364.03" width="6" height="8.47" fill="#8db1de" stroke="#5b8fd0" stroke-width="0.5"/>
<rect x="599.81" y="357.67" width="6" height="14.83" fill="#8db1de" stroke="#5b8fd0" stroke-width="0.5"/>
<rect x="619.28" y="349.20" width="6" height="23.30" fill="#8db1de" stroke="#5b8fd0" stroke-width="0.5"/>
<rect x="337.40" y="293.07" width="13.8" height="79.42" fill="#70ad47" fill-opacity="0.32" stroke="#8fc36a" stroke-width="0.5"/>
<rect x="356.87" y="152.23" width="13.8" height="220.27" fill="#70ad47" fill-opacity="0.32" stroke="#8fc36a" stroke-width="0.5"/>
<rect x="376.34" y="281.43" width="13.8" height="91.07" fill="#70ad47" fill-opacity="0.32" stroke="#8fc36a" stroke-width="0.5"/>
<rect x="395.81" y="281.43" width="13.8" height="91.07" fill="#70ad47" fill-opacity="0.32" stroke="#8fc36a" stroke-width="0.5"/>
<rect x="415.28" y="269.42" width="13.8" height="103.08" fill="#70ad47" fill-opacity="0.32" stroke="#8fc36a" stroke-width="0.5"/>
<rect x="434.75" y="316.73" width="13.8" height="55.77" fill="#70ad47" fill-opacity="0.32" stroke="#8fc36a" stroke-width="0.5"/>
<rect x="454.22" y="334.38" width="13.8" height="38.12" fill="#70ad47" fill-opacity="0.32" stroke="#8fc36a" stroke-width="0.5"/>
<rect x="473.69" y="290.25" width="13.8" height="82.25" fill="#70ad47" fill-opacity="0.32" stroke="#8fc36a" stroke-width="0.5"/>
<rect x="493.16" y="316.73" width="13.8" height="55.77" fill="#70ad47" fill-opacity="0.32" stroke="#8fc36a" stroke-width="0.5"/>
<rect x="512.63" y="319.55" width="13.8" height="52.95" fill="#70ad47" fill-opacity="0.32" stroke="#8fc36a" stroke-width="0.5"/>
<rect x="532.10" y="346.02" width="13.8" height="26.47" fill="#70ad47" fill-opacity="0.32" stroke="#8fc36a" stroke-width="0.5"/>
<rect x="551.57" y="352.38" width="13.8" height="20.12" fill="#70ad47" fill-opacity="0.32" stroke="#8fc36a" stroke-width="0.5"/>
<rect x="571.04" y="354.85" width="13.8" height="17.65" fill="#70ad47" fill-opacity="0.32" stroke="#8fc36a" stroke-width="0.5"/>
<rect x="590.51" y="369.68" width="13.8" height="2.82" fill="#70ad47" fill-opacity="0.32" stroke="#8fc36a" stroke-width="0.5"/>
<rect x="339.90" y="351.67" width="9.4" height="20.83" fill="#ffb4b8" fill-opacity="0.92" stroke="#e02028" stroke-width="0.7" stroke-dasharray="1,0.7"/>
<rect x="359.37" y="304.72" width="9.4" height="67.78" fill="#ffb4b8" fill-opacity="0.92" stroke="#e02028" stroke-width="0.7" stroke-dasharray="1,0.7"/>
<rect x="378.84" y="340.02" width="9.4" height="32.48" fill="#ffb4b8" fill-opacity="0.92" stroke="#e02028" stroke-width="0.7" stroke-dasharray="1,0.7"/>
<rect x="398.31" y="343.20" width="9.4" height="29.30" fill="#ffb4b8" fill-opacity="0.92" stroke="#e02028" stroke-width="0.7" stroke-dasharray="1,0.7"/>
<rect x="417.78" y="337.20" width="9.4" height="35.30" fill="#ffb4b8" fill-opacity="0.92" stroke="#e02028" stroke-width="0.7" stroke-dasharray="1,0.7"/>
<rect x="437.25" y="348.85" width="9.4" height="23.65" fill="#ffb4b8" fill-opacity="0.92" stroke="#e02028" stroke-width="0.7" stroke-dasharray="1,0.7"/>
<rect x="456.72" y="348.85" width="9.4" height="23.65" fill="#ffb4b8" fill-opacity="0.92" stroke="#e02028" stroke-width="0.7" stroke-dasharray="1,0.7"/>
<rect x="476.19" y="316.73" width="9.4" height="55.77" fill="#ffb4b8" fill-opacity="0.92" stroke="#e02028" stroke-width="0.7" stroke-dasharray="1,0.7"/>
<rect x="495.66" y="319.55" width="9.4" height="52.95" fill="#ffb4b8" fill-opacity="0.92" stroke="#e02028" stroke-width="0.7" stroke-dasharray="1,0.7"/>
<rect x="515.13" y="307.90" width="9.4" height="64.60" fill="#ffb4b8" fill-opacity="0.92" stroke="#e02028" stroke-width="0.7" stroke-dasharray="1,0.7"/>
<rect x="534.60" y="337.20" width="9.4" height="35.30" fill="#ffb4b8" fill-opacity="0.92" stroke="#e02028" stroke-width="0.7" stroke-dasharray="1,0.7"/>
<rect x="554.07" y="360.85" width="9.4" height="11.65" fill="#ffb4b8" fill-opacity="0.92" stroke="#e02028" stroke-width="0.7" stroke-dasharray="1,0.7"/>
<rect x="573.54" y="325.20" width="9.4" height="47.30" fill="#ffb4b8" fill-opacity="0.92" stroke="#e02028" stroke-width="0.7" stroke-dasharray="1,0.7"/>
<rect x="593.01" y="369.68" width="9.4" height="2.82" fill="#ffb4b8" fill-opacity="0.92" stroke="#e02028" stroke-width="0.7" stroke-dasharray="1,0.7"/>
<line x1="331.4" y1="142.2" x2="331.4" y2="372.5" stroke="#444" stroke-width="0.5"/>
<line x1="331.4" y1="372.5" x2="642" y2="372.5" stroke="#444" stroke-width="0.5"/>
<line x1="331.4" y1="372.50" x2="334.59999999999997" y2="372.50" stroke="#444" stroke-width="0.4"/>
<line x1="331.4" y1="363.68" x2="333.0" y2="363.68" stroke="#444" stroke-width="0.4"/>
<line x1="331.4" y1="354.85" x2="333.0" y2="354.85" stroke="#444" stroke-width="0.4"/>
<line x1="331.4" y1="346.02" x2="333.0" y2="346.02" stroke="#444" stroke-width="0.4"/>
<line x1="331.4" y1="337.20" x2="334.59999999999997" y2="337.20" stroke="#444" stroke-width="0.4"/>
<line x1="331.4" y1="328.38" x2="333.0" y2="328.38" stroke="#444" stroke-width="0.4"/>
<line x1="331.4" y1="319.55" x2="333.0" y2="319.55" stroke="#444" stroke-width="0.4"/>
<line x1="331.4" y1="310.73" x2="333.0" y2="310.73" stroke="#444" stroke-width="0.4"/>
<line x1="331.4" y1="301.90" x2="334.59999999999997" y2="301.90" stroke="#444" stroke-width="0.4"/>
<line x1="331.4" y1="293.07" x2="333.0" y2="293.07" stroke="#444" stroke-width="0.4"/>
<line x1="331.4" y1="284.25" x2="333.0" y2="284.25" stroke="#444" stroke-width="0.4"/>
<line x1="331.4" y1="275.43" x2="333.0" y2="275.43" stroke="#444" stroke-width="0.4"/>
<line x1="331.4" y1="266.60" x2="334.59999999999997" y2="266.60" stroke="#444" stroke-width="0.4"/>
<line x1="331.4" y1="257.77" x2="333.0" y2="257.77" stroke="#444" stroke-width="0.4"/>
<line x1="331.4" y1="248.95" x2="333.0" y2="248.95" stroke="#444" stroke-width="0.4"/>
<line x1="331.4" y1="240.12" x2="333.0" y2="240.12" stroke="#444" stroke-width="0.4"/>
<line x1="331.4" y1="231.30" x2="334.59999999999997" y2="231.30" stroke="#444" stroke-width="0.4"/>
<line x1="331.4" y1="222.47" x2="333.0" y2="222.47" stroke="#444" stroke-width="0.4"/>
<line x1="331.4" y1="213.65" x2="333.0" y2="213.65" stroke="#444" stroke-width="0.4"/>
<line x1="331.4" y1="204.82" x2="333.0" y2="204.82" stroke="#444" stroke-width="0.4"/>
<line x1="331.4" y1="196.00" x2="334.59999999999997" y2="196.00" stroke="#444" stroke-width="0.4"/>
<line x1="331.4" y1="187.17" x2="333.0" y2="187.17" stroke="#444" stroke-width="0.4"/>
<line x1="331.4" y1="178.35" x2="333.0" y2="178.35" stroke="#444" stroke-width="0.4"/>
<line x1="331.4" y1="169.52" x2="333.0" y2="169.52" stroke="#444" stroke-width="0.4"/>
<line x1="331.4" y1="160.70" x2="334.59999999999997" y2="160.70" stroke="#444" stroke-width="0.4"/>
<line x1="331.4" y1="151.88" x2="333.0" y2="151.88" stroke="#444" stroke-width="0.4"/>
<line x1="331.4" y1="143.05" x2="333.0" y2="143.05" stroke="#444" stroke-width="0.4"/>
<text x="324.10" y="374.10" font-size="5.7" fill="#333" text-anchor="end" font-weight="normal" font-family='"DejaVu Sans", "Liberation Sans", sans-serif' >0.0</text>
<text x="324.10" y="338.80" font-size="5.7" fill="#333" text-anchor="end" font-weight="normal" font-family='"DejaVu Sans", "Liberation Sans", sans-serif' >0.1</text>
<text x="324.10" y="303.50" font-size="5.7" fill="#333" text-anchor="end" font-weight="normal" font-family='"DejaVu Sans", "Liberation Sans", sans-serif' >0.2</text>
<text x="324.10" y="268.20" font-size="5.7" fill="#333" text-anchor="end" font-weight="normal" font-family='"DejaVu Sans", "Liberation Sans", sans-serif' >0.3</text>
<text x="324.10" y="232.90" font-size="5.7" fill="#333" text-anchor="end" font-weight="normal" font-family='"DejaVu Sans", "Liberation Sans", sans-serif' >0.4</text>
<text x="324.10" y="197.60" font-size="5.7" fill="#333" text-anchor="end" font-weight="normal" font-family='"DejaVu Sans", "Liberation Sans", sans-serif' >0.5</text>
<text x="324.10" y="162.30" font-size="5.7" fill="#333" text-anchor="end" font-weight="normal" font-family='"DejaVu Sans", "Liberation Sans", sans-serif' >0.6</text>
<text x="332.40" y="384.10" font-size="5.4" fill="#333" text-anchor="middle" font-weight="normal" font-family='"DejaVu Sans", "Liberation Sans", sans-serif' >3.0</text>
<line x1="331.60" y1="372.5" x2="331.60" y2="370.5" stroke="#444" stroke-width="0.4"/>
<text x="352.00" y="384.10" font-size="5.4" fill="#333" text-anchor="middle" font-weight="normal" font-family='"DejaVu Sans", "Liberation Sans", sans-serif' >4.0</text>
<line x1="351.20" y1="372.5" x2="351.20" y2="370.5" stroke="#444" stroke-width="0.4"/>
<text x="371.60" y="384.10" font-size="5.4" fill="#333" text-anchor="middle" font-weight="normal" font-family='"DejaVu Sans", "Liberation Sans", sans-serif' >5.0</text>
<line x1="370.80" y1="372.5" x2="370.80" y2="370.5" stroke="#444" stroke-width="0.4"/>
<text x="391.20" y="384.10" font-size="5.4" fill="#333" text-anchor="middle" font-weight="normal" font-family='"DejaVu Sans", "Liberation Sans", sans-serif' >6.0</text>
<line x1="390.40" y1="372.5" x2="390.40" y2="370.5" stroke="#444" stroke-width="0.4"/>
<text x="410.80" y="384.10" font-size="5.4" fill="#333" text-anchor="middle" font-weight="normal" font-family='"DejaVu Sans", "Liberation Sans", sans-serif' >7.0</text>
<line x1="410.00" y1="372.5" x2="410.00" y2="370.5" stroke="#444" stroke-width="0.4"/>
<text x="430.40" y="384.10" font-size="5.4" fill="#333" text-anchor="middle" font-weight="normal" font-family='"DejaVu Sans", "Liberation Sans", sans-serif' >8.0</text>
<line x1="429.60" y1="372.5" x2="429.60" y2="370.5" stroke="#444" stroke-width="0.4"/>
<text x="450.00" y="384.10" font-size="5.4" fill="#333" text-anchor="middle" font-weight="normal" font-family='"DejaVu Sans", "Liberation Sans", sans-serif' >9.0</text>
<line x1="449.20" y1="372.5" x2="449.20" y2="370.5" stroke="#444" stroke-width="0.4"/>
<text x="469.60" y="384.10" font-size="5.4" fill="#333" text-anchor="middle" font-weight="normal" font-family='"DejaVu Sans", "Liberation Sans", sans-serif' >10.0</text>
<line x1="468.80" y1="372.5" x2="468.80" y2="370.5" stroke="#444" stroke-width="0.4"/>
<text x="489.20" y="384.10" font-size="5.4" fill="#333" text-anchor="middle" font-weight="normal" font-family='"DejaVu Sans", "Liberation Sans", sans-serif' >11.0</text>
<line x1="488.40" y1="372.5" x2="488.40" y2="370.5" stroke="#444" stroke-width="0.4"/>
<text x="508.80" y="384.10" font-size="5.4" fill="#333" text-anchor="middle" font-weight="normal" font-family='"DejaVu Sans", "Liberation Sans", sans-serif' >12.0</text>
<line x1="508.00" y1="372.5" x2="508.00" y2="370.5" stroke="#444" stroke-width="0.4"/>
<text x="528.40" y="384.10" font-size="5.4" fill="#333" text-anchor="middle" font-weight="normal" font-family='"DejaVu Sans", "Liberation Sans", sans-serif' >13.0</text>
<line x1="527.60" y1="372.5" x2="527.60" y2="370.5" stroke="#444" stroke-width="0.4"/>
<text x="548.00" y="384.10" font-size="5.4" fill="#333" text-anchor="middle" font-weight="normal" font-family='"DejaVu Sans", "Liberation Sans", sans-serif' >14.0</text>
<line x1="547.20" y1="372.5" x2="547.20" y2="370.5" stroke="#444" stroke-width="0.4"/>
<text x="567.60" y="384.10" font-size="5.4" fill="#333" text-anchor="middle" font-weight="normal" font-family='"DejaVu Sans", "Liberation Sans", sans-serif' >15.0</text>
<line x1="566.80" y1="372.5" x2="566.80" y2="370.5" stroke="#444" stroke-width="0.4"/>
<text x="587.20" y="384.10" font-size="5.4" fill="#333" text-anchor="middle" font-weight="normal" font-family='"DejaVu Sans", "Liberation Sans", sans-serif' >16.0</text>
<line x1="586.40" y1="372.5" x2="586.40" y2="370.5" stroke="#444" stroke-width="0.4"/>
<text x="606.80" y="384.10" font-size="5.4" fill="#333" text-anchor="middle" font-weight="normal" font-family='"DejaVu Sans", "Liberation Sans", sans-serif' >17.0</text>
<line x1="606.00" y1="372.5" x2="606.00" y2="370.5" stroke="#444" stroke-width="0.4"/>
<text x="626.40" y="384.10" font-size="5.4" fill="#333" text-anchor="middle" font-weight="normal" font-family='"DejaVu Sans", "Liberation Sans", sans-serif' >18.0</text>
<line x1="625.60" y1="372.5" x2="625.60" y2="370.5" stroke="#444" stroke-width="0.4"/>
<text x="487.00" y="395.60" font-size="5.8" fill="#222" text-anchor="middle" font-weight="bold" font-family='"DejaVu Sans", "Liberation Sans", sans-serif' textLength="125.00" lengthAdjust="spacingAndGlyphs" >Size n of the ring [total number of nodes]</text>
<g transform="translate(304.4,258) rotate(-90)">
<text x="0.00" y="0.00" font-size="5.4" fill="#222" text-anchor="middle" font-weight="bold" font-family='"DejaVu Sans", "Liberation Sans", sans-serif' textLength="64.00" lengthAdjust="spacingAndGlyphs" >King's - Rc(n)/n[Ge,Se]</text>
</g>
<rect x="121.80" y="166.70" width="179.80" height="252.00" fill="#000" opacity="0.22" filter="url(#sh2)"/>
<rect x="124.30" y="167.70" width="175.30" height="250.20" fill="#000" opacity="0.55" filter="url(#sh)"/>
<rect x="122.8" y="165.7" width="177.8" height="250.0" rx="2" fill="#3d3d3f"/>
<rect x="122.80" y="166.70" width="177.80" height="8.90" fill="#343436" />
<text x="211.50" y="172.50" font-size="5.78" fill="#c4c4c4" text-anchor="middle" font-weight="bold" font-family='"Liberation Sans", sans-serif' textLength="26.00" lengthAdjust="spacingAndGlyphs" >Edit curve</text>
<circle cx="295.6" cy="170.4" r="2.2" fill="#3a3a3c" stroke="#55555a" stroke-width="0.5"/><circle cx="295.6" cy="170.4" r="1.1" fill="#c5303a"/>
<rect x="122.80" y="175.80" width="177.80" height="8.00" fill="#323234" />
<rect x="144.50" y="175.80" width="17.00" height="8.00" fill="#3d3d3f" />
<rect x="122.80" y="183.60" width="177.80" height="0.40" fill="#4a4a4c" />
<rect x="144.30" y="176.20" width="0.40" height="7.40" fill="#4c4c4e" />
<rect x="161.30" y="176.20" width="0.40" height="7.40" fill="#4c4c4e" />
<rect x="183.80" y="176.20" width="0.40" height="7.40" fill="#4c4c4e" />
<rect x="199.80" y="176.20" width="0.40" height="7.40" fill="#4c4c4e" />
<rect x="236.80" y="176.20" width="0.40" height="7.40" fill="#4c4c4e" />
<text x="127.30" y="181.90" font-size="6.1" fill="#9a9a9a" text-anchor="start" font-weight="normal" font-family='"Liberation Sans", sans-serif' textLength="14.00" lengthAdjust="spacingAndGlyphs" >Graph</text>
<text x="147.20" y="181.90" font-size="6.1" fill="#f4f4f4" text-anchor="start" font-weight="normal" font-family='"Liberation Sans", sans-serif' textLength="11.00" lengthAdjust="spacingAndGlyphs" >Data</text>
<text x="165.00" y="181.90" font-size="6.1" fill="#9a9a9a" text-anchor="start" font-weight="normal" font-family='"Liberation Sans", sans-serif' textLength="16.00" lengthAdjust="spacingAndGlyphs" >Legend</text>
<text x="187.60" y="181.90" font-size="6.1" fill="#9a9a9a" text-anchor="start" font-weight="normal" font-family='"Liberation Sans", sans-serif' textLength="9.40" lengthAdjust="spacingAndGlyphs" >Axis</text>
<text x="203.80" y="181.90" font-size="6.1" fill="#9a9a9a" text-anchor="start" font-weight="normal" font-family='"Liberation Sans", sans-serif' textLength="28.80" lengthAdjust="spacingAndGlyphs" >Add data set</text>
<text x="130.50" y="195.80" font-size="6.1" fill="#f4f4f4" text-anchor="start" font-weight="bold" font-family='"Liberation Sans", sans-serif' textLength="25.50" lengthAdjust="spacingAndGlyphs" >Select set:</text>
<rect x="167" y="187" width="74.80000000000001" height="12.900000000000006" rx="1.2" fill="#555557" stroke="#2e2e30" stroke-width="0.4"/>
<rect x="236.20000000000002" y="187" width="5.6" height="12.900000000000006" rx="1.2" fill="#2f6fe0"/>
<path d="M237.7 192.54999999999998 L239.0 191.04999999999998 L240.3 192.54999999999998 M237.7 194.35 L239.0 195.85 L240.3 194.35" stroke="#fff" stroke-width="0.7" fill="none"/>
<text x="171.50" y="195.45" font-size="5.89" fill="#eee" text-anchor="start" font-weight="normal" font-family='"Liberation Sans", sans-serif' textLength="62.00" lengthAdjust="spacingAndGlyphs" >l-GeSe [PW91] - g(r) neutrons</text>
<text x="137.00" y="214.40" font-size="5.89" fill="#eee" text-anchor="start" font-weight="normal" font-family='"Liberation Sans", sans-serif' textLength="21.50" lengthAdjust="spacingAndGlyphs" >Plot type:</text>
<text x="137.00" y="225.60" font-size="5.89" fill="#eee" text-anchor="start" font-weight="normal" font-family='"Liberation Sans", sans-serif' textLength="25.00" lengthAdjust="spacingAndGlyphs" >Data color:</text>
<text x="137.00" y="236.80" font-size="5.89" fill="#eee" text-anchor="start" font-weight="normal" font-family='"Liberation Sans", sans-serif' textLength="23.50" lengthAdjust="spacingAndGlyphs" >Line style:</text>
<text x="137.00" y="248.00" font-size="5.89" fill="#eee" text-anchor="start" font-weight="normal" font-family='"Liberation Sans", sans-serif' textLength="25.00" lengthAdjust="spacingAndGlyphs" >Line width:</text>
<text x="137.00" y="259.30" font-size="5.89" fill="#eee" text-anchor="start" font-weight="normal" font-family='"Liberation Sans", sans-serif' textLength="26.00" lengthAdjust="spacingAndGlyphs" >Glyph type:</text>
<text x="137.00" y="270.60" font-size="5.89" fill="#eee" text-anchor="start" font-weight="normal" font-family='"Liberation Sans", sans-serif' textLength="24.50" lengthAdjust="spacingAndGlyphs" >Glyph size:</text>
<text x="137.00" y="281.80" font-size="5.89" fill="#eee" text-anchor="start" font-weight="normal" font-family='"Liberation Sans", sans-serif' textLength="27.50" lengthAdjust="spacingAndGlyphs" >Glyph freq.:</text>
<rect x="186.5" y="207.9" width="39.30000000000001" height="9.099999999999994" rx="1.2" fill="#555557" stroke="#2e2e30" stroke-width="0.4"/>
<rect x="220.20000000000002" y="207.9" width="5.6" height="9.099999999999994" rx="1.2" fill="#2f6fe0"/>
<path d="M221.7 211.54999999999998 L223.0 210.04999999999998 L224.3 211.54999999999998 M221.7 213.35 L223.0 214.85 L224.3 213.35" stroke="#fff" stroke-width="0.7" fill="none"/>
<text x="191.50" y="214.45" font-size="5.89" fill="#eee" text-anchor="start" font-weight="normal" font-family='"Liberation Sans", sans-serif' textLength="7.00" lengthAdjust="spacingAndGlyphs" >x/y</text>
<rect x="186.5" y="219.2" width="39.3" height="9" rx="1" fill="#5a5a5c" stroke="#2e2e30" stroke-width="0.4"/>
<rect x="188.30" y="220.40" width="35.60" height="6.50" fill="#f80808" />
<rect x="186.5" y="230.3" width="39.30000000000001" height="9.099999999999994" rx="1.2" fill="#555557" stroke="#2e2e30" stroke-width="0.4"/>
<rect x="220.20000000000002" y="230.3" width="5.6" height="9.099999999999994" rx="1.2" fill="#2f6fe0"/>
<path d="M221.7 233.95000000000002 L223.0 232.45000000000002 L224.3 233.95000000000002 M221.7 235.75000000000003 L223.0 237.25000000000003 L224.3 235.75000000000003" stroke="#fff" stroke-width="0.7" fill="none"/>
<text x="191.50" y="236.85" font-size="5.89" fill="#eee" text-anchor="start" font-weight="normal" font-family='"Liberation Sans", sans-serif' >1</text>
<rect x="186.5" y="241.6" width="39.3" height="9" rx="1" fill="#58585a" stroke="#2e2e30" stroke-width="0.4"/>
<text x="224.50" y="248.00" font-size="5.67" fill="#eee" text-anchor="end" font-weight="normal" font-family='"Liberation Sans", sans-serif' textLength="20.50" lengthAdjust="spacingAndGlyphs" >1.000000</text>
<rect x="186.5" y="252.8" width="39.30000000000001" height="9.099999999999966" rx="1.2" fill="#555557" stroke="#2e2e30" stroke-width="0.4"/>
<rect x="220.20000000000002" y="252.8" width="5.6" height="9.099999999999966" rx="1.2" fill="#2f6fe0"/>
<path d="M221.7 256.45000000000005 L223.0 254.95000000000002 L224.3 256.45000000000005 M221.7 258.25 L223.0 259.75 L224.3 258.25" stroke="#fff" stroke-width="0.7" fill="none"/>
<text x="191.50" y="259.35" font-size="5.89" fill="#eee" text-anchor="start" font-weight="normal" font-family='"Liberation Sans", sans-serif' textLength="21.50" lengthAdjust="spacingAndGlyphs" >No glyph</text>
<rect x="186.5" y="264.1" width="39.3" height="9" rx="1" fill="#474749" stroke="#38383a" stroke-width="0.4"/>
<text x="224.50" y="270.60" font-size="5.67" fill="#8a8a8a" text-anchor="end" font-weight="normal" font-family='"Liberation Sans", sans-serif' textLength="23.00" lengthAdjust="spacingAndGlyphs" >10.000000</text>
<rect x="186.5" y="275.3" width="39.3" height="9" rx="1" fill="#474749" stroke="#38383a" stroke-width="0.4"/>
<text x="224.50" y="281.80" font-size="5.67" fill="#8a8a8a" text-anchor="end" font-weight="normal" font-family='"Liberation Sans", sans-serif' >1</text>
<rect x="252.5" y="245.8" width="33.9" height="11.2" fill="#fff" stroke="#2a2a2a" stroke-width="0.5"/>
<rect x="253.00" y="251.10" width="33.00" height="0.60" fill="#f04040" />
<rect x="124.80" y="300.40" width="173.80" height="0.40" fill="#2e2e30" />
<rect x="124.80" y="314.30" width="173.80" height="0.40" fill="#2e2e30" />
<rect x="128.6" y="305.2" width="3.6" height="3.6" rx="0.6" fill="#707072" stroke="#2a2a2c" stroke-width="0.4"/>
<text x="134.00" y="309.30" font-size="5.78" fill="#eee" text-anchor="start" font-weight="normal" font-family='"Liberation Sans", sans-serif' textLength="132.00" lengthAdjust="spacingAndGlyphs" >Automatic x axis shift for bar diagram  (to improve visibility)</text>
<text x="130.00" y="324.50" font-size="5.89" fill="#f4f4f4" text-anchor="start" font-weight="bold" font-family='"Liberation Sans", sans-serif' textLength="47.50" lengthAdjust="spacingAndGlyphs" >Layers organization:</text>
<rect x="148.7" y="330.4" width="115.1" height="64.6" fill="#2a2a2c" stroke="#232325" stroke-width="0.5"/>
<text x="151.00" y="336.40" font-size="5.67" fill="#f2f2f2" text-anchor="start" font-weight="bold" font-family='"Liberation Sans", sans-serif' textLength="24.50" lengthAdjust="spacingAndGlyphs" >Data set(s)</text>
<text x="150.00" y="343.90" font-size="5.67" fill="#f2f2f2" text-anchor="start" font-weight="normal" font-family='"Liberation Sans", sans-serif' textLength="64.00" lengthAdjust="spacingAndGlyphs" >l-GeSe [BLYP] - g(r) neutrons</text>
<text x="150.00" y="351.40" font-size="5.67" fill="#f2f2f2" text-anchor="start" font-weight="normal" font-family='"Liberation Sans", sans-serif' textLength="60.50" lengthAdjust="spacingAndGlyphs" >l-GeSe [PBE] - g(r) neutrons</text>
<text x="150.00" y="358.90" font-size="5.67" fill="#f2f2f2" text-anchor="start" font-weight="normal" font-family='"Liberation Sans", sans-serif' textLength="64.50" lengthAdjust="spacingAndGlyphs" >l-GeSe [PW91] - g(r) neutrons</text>
<text x="132.90" y="404.20" font-size="5.78" fill="#eee" text-anchor="start" font-weight="normal" font-family='"Liberation Sans", sans-serif' textLength="143.60" lengthAdjust="spacingAndGlyphs" >Move up/down to adjust layer position (up to front, down to back)</text>
<rect x="273" y="407" width="26.5" height="8" rx="1" fill="#5a5a5c" stroke="#303032" stroke-width="0.4"/>
<text x="286.30" y="413.00" font-size="5.78" fill="#f0f0f0" text-anchor="middle" font-weight="normal" font-family='"Liberation Sans", sans-serif' textLength="12.50" lengthAdjust="spacingAndGlyphs" >Close</text>
<rect x="384.30" y="9.30" width="360.10" height="259.80" fill="#000" opacity="0.22" filter="url(#sh2)"/>
<rect x="386.80" y="10.30" width="355.60" height="258.00" fill="#000" opacity="0.55" filter="url(#sh)"/>
<rect x="385.3" y="8.3" width="358.09999999999997" height="257.8" rx="2" fill="#2d2d2f"/>
<rect x="385.30" y="25.10" width="358.10" height="241.00" fill="#fff" />
<text x="564.50" y="15.20" font-size="5.78" fill="#e0e0e0" text-anchor="middle" font-weight="bold" font-family='"Liberation Sans", sans-serif' textLength="70.00" lengthAdjust="spacingAndGlyphs" >l-GeSe [PW91] - g(r) neutrons</text>
<circle cx="721.90" cy="13.20" r="2.45" fill="#424244" stroke="#525256" stroke-width="0.45"/>
<rect x="720.67" y="12.59" width="2.45" height="1.35" fill="#a88a34"/>
<circle cx="729.70" cy="13.20" r="2.45" fill="#424244" stroke="#525256" stroke-width="0.45"/>
<circle cx="729.70" cy="13.20" r="1.13" fill="#2f8f3a"/>
<circle cx="737.50" cy="13.20" r="2.45" fill="#424244" stroke="#525256" stroke-width="0.45"/>
<circle cx="737.50" cy="13.20" r="1.13" fill="#b0323a"/>
<text x="389.00" y="24.00" font-size="5.78" fill="#ececec" text-anchor="start" font-weight="normal" font-family='"Liberation Sans", sans-serif' textLength="11.50" lengthAdjust="spacingAndGlyphs" >Data</text>
<text x="405.00" y="24.00" font-size="5.78" fill="#ececec" text-anchor="start" font-weight="normal" font-family='"Liberation Sans", sans-serif' textLength="14.00" lengthAdjust="spacingAndGlyphs" >Curve</text>
<text x="743.00" y="24.00" font-size="5.78" fill="#f0f0f0" text-anchor="end" font-weight="bold" font-family='"Liberation Sans", sans-serif' textLength="24.50" lengthAdjust="spacingAndGlyphs" >Not in plot</text>
<line x1="443.35" y1="37.4" x2="443.35" y2="236.4" stroke="#f0f0f3" stroke-width="0.5"/>
<line x1="458.20" y1="37.4" x2="458.20" y2="236.4" stroke="#f0f0f3" stroke-width="0.5"/>
<line x1="473.05" y1="37.4" x2="473.05" y2="236.4" stroke="#f0f0f3" stroke-width="0.5"/>
<line x1="487.90" y1="37.4" x2="487.90" y2="236.4" stroke="#f0f0f3" stroke-width="0.5"/>
<line x1="502.75" y1="37.4" x2="502.75" y2="236.4" stroke="#f0f0f3" stroke-width="0.5"/>
<line x1="517.60" y1="37.4" x2="517.60" y2="236.4" stroke="#f0f0f3" stroke-width="0.5"/>
<line x1="532.45" y1="37.4" x2="532.45" y2="236.4" stroke="#f0f0f3" stroke-width="0.5"/>
<line x1="547.30" y1="37.4" x2="547.30" y2="236.4" stroke="#f0f0f3" stroke-width="0.5"/>
<line x1="562.15" y1="37.4" x2="562.15" y2="236.4" stroke="#f0f0f3" stroke-width="0.5"/>
<line x1="577.00" y1="37.4" x2="577.00" y2="236.4" stroke="#f0f0f3" stroke-width="0.5"/>
<line x1="591.85" y1="37.4" x2="591.85" y2="236.4" stroke="#f0f0f3" stroke-width="0.5"/>
<line x1="606.70" y1="37.4" x2="606.70" y2="236.4" stroke="#f0f0f3" stroke-width="0.5"/>
<line x1="621.55" y1="37.4" x2="621.55" y2="236.4" stroke="#f0f0f3" stroke-width="0.5"/>
<line x1="636.40" y1="37.4" x2="636.40" y2="236.4" stroke="#f0f0f3" stroke-width="0.5"/>
<line x1="651.25" y1="37.4" x2="651.25" y2="236.4" stroke="#f0f0f3" stroke-width="0.5"/>
<line x1="666.10" y1="37.4" x2="666.10" y2="236.4" stroke="#f0f0f3" stroke-width="0.5"/>
<line x1="680.95" y1="37.4" x2="680.95" y2="236.4" stroke="#f0f0f3" stroke-width="0.5"/>
<line x1="695.80" y1="37.4" x2="695.80" y2="236.4" stroke="#f0f0f3" stroke-width="0.5"/>
<line x1="710.65" y1="37.4" x2="710.65" y2="236.4" stroke="#f0f0f3" stroke-width="0.5"/>
<line x1="428.5" y1="223.97" x2="725.9" y2="223.97" stroke="#f0f0f3" stroke-width="0.5"/>
<line x1="428.5" y1="211.53" x2="725.9" y2="211.53" stroke="#f0f0f3" stroke-width="0.5"/>
<line x1="428.5" y1="199.09" x2="725.9" y2="199.09" stroke="#f0f0f3" stroke-width="0.5"/>
<line x1="428.5" y1="186.66" x2="725.9" y2="186.66" stroke="#f0f0f3" stroke-width="0.5"/>
<line x1="428.5" y1="174.22" x2="725.9" y2="174.22" stroke="#f0f0f3" stroke-width="0.5"/>
<line x1="428.5" y1="161.79" x2="725.9" y2="161.79" stroke="#f0f0f3" stroke-width="0.5"/>
<line x1="428.5" y1="149.36" x2="725.9" y2="149.36" stroke="#f0f0f3" stroke-width="0.5"/>
<line x1="428.5" y1="136.92" x2="725.9" y2="136.92" stroke="#f0f0f3" stroke-width="0.5"/>
<line x1="428.5" y1="124.48" x2="725.9" y2="124.48" stroke="#f0f0f3" stroke-width="0.5"/>
<line x1="428.5" y1="112.05" x2="725.9" y2="112.05" stroke="#f0f0f3" stroke-width="0.5"/>
<line x1="428.5" y1="99.62" x2="725.9" y2="99.62" stroke="#f0f0f3" stroke-width="0.5"/>
<line x1="428.5" y1="87.18" x2="725.9" y2="87.18" stroke="#f0f0f3" stroke-width="0.5"/>
<line x1="428.5" y1="74.75" x2="725.9" y2="74.75" stroke="#f0f0f3" stroke-width="0.5"/>
<line x1="428.5" y1="62.31" x2="725.9" y2="62.31" stroke="#f0f0f3" stroke-width="0.5"/>
<line x1="428.5" y1="49.88" x2="725.9" y2="49.88" stroke="#f0f0f3" stroke-width="0.5"/>
<clipPath id="clg"><rect x="428.5" y="37.4" width="297.4" height="199.0"/></clipPath>
<g clip-path="url(#clg)">
<line x1="428.5" y1="136.92" x2="495.29" y2="136.92" stroke="#b9c9e8" stroke-width="0.6"/>
<polyline points="495.3,136.9 495.9,136.9 496.5,131.0 497.1,127.8 497.7,105.2 498.2,64.8 498.8,27.5 499.4,57.3 500.0,47.2 500.6,62.2 501.2,70.1 501.8,71.3 502.4,70.1 503.0,83.4 503.6,87.6 504.2,61.6 504.7,79.6 505.3,94.4 505.9,122.3 506.5,110.0 507.1,115.0 507.7,98.0 508.3,117.5 508.9,97.5 509.5,120.4 510.1,116.1 510.7,95.3 511.2,114.0 511.8,101.0 512.4,116.0 513.0,122.8 513.6,113.8 514.2,117.9 514.8,118.6 515.4,127.8 516.0,127.6 516.6,107.5 517.2,105.1 517.7,104.0 518.3,122.7 518.9,135.1 519.5,120.0 520.1,116.8 520.7,118.3 521.3,133.5 521.9,124.3 522.5,116.1 523.1,132.1 523.7,111.1 524.2,94.2 524.8,121.4 525.4,130.4 526.0,95.6 526.6,110.3 527.2,115.1 527.8,114.0 528.4,101.4 529.0,114.5 529.6,126.5 530.2,109.0 530.7,113.1 531.3,106.0 531.9,92.4 532.5,109.5 533.1,111.1 533.7,121.2 534.3,96.0 534.9,116.4 535.5,84.1 536.1,96.3 536.7,85.9 537.2,90.2 537.8,104.2 538.4,103.8 539.0,74.2 539.6,97.9 540.2,85.7 540.8,100.7 541.4,95.6 542.0,87.7 542.6,96.6 543.2,85.3 543.8,79.8 544.3,95.0 544.9,96.1 545.5,115.1 546.1,94.9 546.7,109.8 547.3,94.4 547.9,93.3 548.5,96.9 549.1,97.5 549.7,98.8 550.3,90.5 550.8,102.2 551.4,95.5 552.0,107.1 552.6,113.7 553.2,111.7 553.8,102.2 554.4,112.9 555.0,104.4 555.6,100.1 556.2,109.6 556.8,117.6 557.3,109.4 557.9,112.8 558.5,102.3 559.1,116.3 559.7,116.2 560.3,112.6 560.9,112.6 561.5,117.9 562.1,114.5 562.7,110.9 563.3,113.6 563.8,124.4 564.4,114.5 565.0,114.6 565.6,114.4 566.2,129.4 566.8,117.1 567.4,102.6 568.0,107.1 568.6,103.8 569.2,110.9 569.8,115.4 570.3,104.5 570.9,117.3 571.5,113.9 572.1,114.0 572.7,115.6 573.3,118.4 573.9,117.0 574.5,113.4 575.1,117.7 575.7,116.7 576.3,116.6 576.8,116.9 577.4,109.6 578.0,114.2 578.6,130.6 579.2,111.3 579.8,114.3 580.4,110.3 581.0,114.2 581.6,116.3 582.2,108.3 582.8,118.9 583.3,116.4 583.9,113.6 584.5,107.0 585.1,120.4 585.7,114.9 586.3,112.5 586.9,110.5 587.5,120.4 588.1,108.9 588.7,111.8 589.3,112.1 589.9,113.5 590.4,114.4 591.0,104.3 591.6,89.7 592.2,117.0 592.8,116.0 593.4,109.5 594.0,107.6 594.6,106.1 595.2,113.8 595.8,115.5 596.4,120.8 596.9,112.4 597.5,110.2 598.1,103.8 598.7,124.5 599.3,119.3 599.9,108.6 600.5,108.2 601.1,117.4 601.7,118.7 602.3,124.9 602.9,108.2 603.4,113.0 604.0,113.7 604.6,107.8 605.2,117.1 605.8,109.3 606.4,118.5 607.0,120.1 607.6,107.5 608.2,105.1 608.8,110.0 609.4,110.7 609.9,106.9 610.5,119.3 611.1,112.6 611.7,101.1 612.3,97.9 612.9,122.9 613.5,135.9 614.1,105.9 614.7,110.4 615.3,106.1 615.9,108.3 616.4,110.6 617.0,107.4 617.6,109.1 618.2,127.9 618.8,110.8 619.4,103.3 620.0,106.5 620.6,108.9 621.2,109.5 621.8,105.9 622.4,113.7 622.9,112.3 623.5,109.8 624.1,106.3 624.7,113.6 625.3,116.9 625.9,114.7 626.5,112.4 627.1,119.8 627.7,110.5 628.3,104.4 628.9,114.0 629.5,100.4 630.0,113.1 630.6,112.0 631.2,97.6 631.8,109.9 632.4,112.6 633.0,109.3 633.6,113.0 634.2,110.0 634.8,116.7 635.4,121.9 636.0,111.9 636.5,112.8 637.1,113.5 637.7,120.0 638.3,103.5 638.9,120.3 639.5,100.2 640.1,115.4 640.7,116.0 641.3,103.2 641.9,101.2 642.5,110.8 643.0,101.8 643.6,118.2 644.2,107.3 644.8,112.0 645.4,115.7 646.0,112.2 646.6,120.4 647.2,109.0 647.8,111.5 648.4,120.4 649.0,117.0 649.5,115.6 650.1,113.2 650.7,116.6 651.3,115.4 651.9,112.4 652.5,118.7 653.1,109.4 653.7,113.2 654.3,113.7 654.9,111.9 655.5,118.2 656.0,105.2 656.6,119.6 657.2,112.0 657.8,99.7 658.4,118.6 659.0,110.0 659.6,97.9 660.2,89.3 660.8,114.1 661.4,110.9 662.0,101.8 662.5,110.9 663.1,105.6 663.7,109.8 664.3,124.8 664.9,114.0 665.5,104.7 666.1,112.5 666.7,112.8 667.3,114.5 667.9,117.6 668.5,110.1 669.0,113.2 669.6,105.1 670.2,123.9 670.8,105.4 671.4,120.3 672.0,107.0 672.6,112.5 673.2,108.9 673.8,112.6 674.4,117.6 675.0,101.1 675.6,110.4 676.1,116.1 676.7,111.0 677.3,116.3 677.9,113.1 678.5,111.0 679.1,110.8 679.7,119.5 680.3,116.7 680.9,112.5 681.5,111.9 682.1,106.0 682.6,111.2 683.2,107.3 683.8,113.5 684.4,116.8 685.0,114.9 685.6,126.6 686.2,113.6 686.8,110.5 687.4,106.5 688.0,115.7 688.6,109.5 689.1,108.6 689.7,109.7 690.3,99.4 690.9,111.2 691.5,112.6 692.1,111.7 692.7,134.6 693.3,132.9 693.9,112.1 694.5,113.4 695.1,118.4 695.6,113.7 696.2,110.4 696.8,111.8 697.4,113.2 698.0,108.3 698.6,122.9 699.2,104.9 699.8,109.9 700.4,112.9 701.0,109.7 701.6,101.9 702.1,110.3 702.7,110.1 703.3,109.5 703.9,103.4 704.5,104.8 705.1,114.9 705.7,127.1 706.3,114.9 706.9,113.6 707.5,115.5 708.1,112.5 708.6,102.0 709.2,116.7 709.8,113.4 710.4,106.7 711.0,118.5 711.6,113.7 712.2,111.5 712.8,108.3 713.4,105.8 714.0,115.3 714.6,100.7 715.1,112.7 715.7,118.5 716.3,117.6 716.9,112.7 717.5,107.3 718.1,121.6 718.7,116.1 719.3,107.6 719.9,107.0 720.5,116.5 721.1,122.6 721.7,110.3 722.2,107.8 722.8,123.2 723.4,111.8 724.0,118.1 724.6,111.0 725.2,119.3 725.8,118.5" fill="none" stroke="#7b9fd6" stroke-width="0.55" stroke-dasharray="0.8,0.6"/>
<polyline points="428.5,186.7 429.1,186.7 429.7,186.7 430.3,186.7 430.9,186.7 431.5,186.7 432.0,186.7 432.6,186.7 433.2,186.7 433.8,186.7 434.4,186.7 435.0,186.7 435.6,186.7 436.2,186.7 436.8,186.7 437.4,186.7 438.0,186.7 438.5,186.7 439.1,186.7 439.7,186.7 440.3,186.7 440.9,186.7 441.5,186.7 442.1,186.7 442.7,186.7 443.3,186.7 443.9,186.7 444.5,186.7 445.0,186.7 445.6,186.7 446.2,186.7 446.8,186.7 447.4,186.7 448.0,186.7 448.6,186.7 449.2,186.7 449.8,186.7 450.4,186.7 451.0,186.7 451.6,186.7 452.1,186.7 452.7,186.7 453.3,186.7 453.9,186.7 454.5,186.7 455.1,186.7 455.7,186.7 456.3,186.7 456.9,186.7 457.5,186.7 458.1,186.7 458.6,186.7 459.2,186.7 459.8,186.7 460.4,186.7 461.0,186.7 461.6,186.7 462.2,186.7 462.8,186.7 463.4,186.7 464.0,186.7 464.6,186.7 465.1,186.7 465.7,186.7 466.3,186.7 466.9,186.7 467.5,186.7 468.1,186.7 468.7,186.7 469.3,186.7 469.9,186.7 470.5,186.7 471.1,186.7 471.6,186.7 472.2,186.7 472.8,186.7 473.4,186.7 474.0,186.7 474.6,186.7 475.2,186.7 475.8,186.7 476.4,186.7 477.0,186.7 477.6,186.7 478.1,186.7 478.7,186.7 479.3,186.7 479.9,186.7 480.5,186.7 481.1,186.7 481.7,186.7 482.3,186.7 482.9,186.7 483.5,186.7 484.1,186.7 484.6,186.7 485.2,186.7 485.8,186.7 486.4,186.7 487.0,186.7 487.6,186.7 488.2,186.7 488.8,186.7 489.4,186.7 490.0,186.7 490.6,186.7 491.1,186.7 491.7,186.7 492.3,186.7 492.9,186.7 493.5,186.7 494.1,186.7 494.7,186.7 495.3,186.7 495.9,186.7 496.5,183.5 497.1,172.0 497.7,157.7 498.2,163.8 498.8,158.4 499.4,156.1 500.0,154.8 500.6,149.3 501.2,121.5 501.8,148.1 502.4,158.9 503.0,142.0 503.6,142.4 504.2,140.1 504.7,133.0 505.3,69.8 505.9,157.0 506.5,151.8 507.1,166.7 507.7,178.1 508.3,168.6 508.9,176.4 509.5,157.3 510.1,171.9 510.7,171.3 511.2,158.8 511.8,159.6 512.4,165.1 513.0,155.9 513.6,180.4 514.2,152.1 514.8,167.6 515.4,171.8 516.0,163.5 516.6,167.6 517.2,150.6 517.7,178.4 518.3,169.5 518.9,170.8 519.5,168.6 520.1,174.1 520.7,184.4 521.3,169.4 521.9,171.1 522.5,161.2 523.1,169.1 523.7,169.1 524.2,166.0 524.8,166.7 525.4,152.8 526.0,161.2 526.6,165.3 527.2,169.4 527.8,162.8 528.4,159.8 529.0,159.0 529.6,138.2 530.2,166.6 530.7,162.3 531.3,161.8 531.9,162.9 532.5,161.6 533.1,159.5 533.7,158.2 534.3,161.8 534.9,165.2 535.5,159.9 536.1,164.0 536.7,158.4 537.2,152.5 537.8,153.2 538.4,122.8 539.0,152.8 539.6,152.5 540.2,150.7 540.8,148.7 541.4,150.5 542.0,150.8 542.6,150.4 543.2,153.9 543.8,147.1 544.3,150.7 544.9,155.2 545.5,156.9 546.1,164.4 546.7,155.6 547.3,174.8 547.9,160.8 548.5,166.8 549.1,158.9 549.7,158.2 550.3,155.8 550.8,153.2 551.4,156.5 552.0,164.3 552.6,151.1 553.2,156.3 553.8,159.8 554.4,158.5 555.0,160.4 555.6,166.0 556.2,159.4 556.8,143.5 557.3,157.8 557.9,166.5 558.5,168.6 559.1,152.9 559.7,154.3 560.3,159.2 560.9,159.1 561.5,168.3 562.1,158.4 562.7,167.2 563.3,168.3 563.8,164.1 564.4,186.7 565.0,158.3 565.6,168.6 566.2,160.9 566.8,163.1 567.4,160.6 568.0,163.1 568.6,153.2 569.2,165.5 569.8,164.4 570.3,166.2 570.9,161.8 571.5,166.8 572.1,160.9 572.7,172.1 573.3,167.9 573.9,165.3 574.5,170.5 575.1,168.5 575.7,159.9 576.3,165.9 576.8,168.0 577.4,159.6 578.0,163.7 578.6,163.0 579.2,157.9 579.8,161.8 580.4,166.6 581.0,180.4 581.6,163.3 582.2,161.3 582.8,159.4 583.3,167.4 583.9,161.8 584.5,154.1 585.1,165.7 585.7,165.0 586.3,163.3 586.9,161.8 587.5,145.6 588.1,161.4 588.7,155.7 589.3,160.4 589.9,162.1 590.4,163.9 591.0,163.2 591.6,158.1 592.2,165.9 592.8,166.9 593.4,165.0 594.0,159.4 594.6,162.4 595.2,164.8 595.8,162.7 596.4,168.7 596.9,161.3 597.5,156.3 598.1,161.0 598.7,160.9 599.3,173.1 599.9,162.8 600.5,168.5 601.1,170.4 601.7,154.2 602.3,157.4 602.9,155.0 603.4,165.6 604.0,161.0 604.6,151.8 605.2,160.2 605.8,151.0 606.4,148.0 607.0,178.6 607.6,160.0 608.2,158.5 608.8,160.9 609.4,160.6 609.9,160.8 610.5,162.8 611.1,172.5 611.7,156.6 612.3,133.6 612.9,170.8 613.5,153.9 614.1,159.1 614.7,173.9 615.3,168.4 615.9,159.5 616.4,166.7 617.0,162.2 617.6,162.6 618.2,147.7 618.8,160.5 619.4,162.7 620.0,151.3 620.6,148.8 621.2,158.1 621.8,166.3 622.4,154.3 622.9,161.4 623.5,157.4 624.1,158.6 624.7,159.6 625.3,158.1 625.9,157.3 626.5,161.8 627.1,161.7 627.7,168.6 628.3,163.0 628.9,155.7 629.5,165.4 630.0,159.2 630.6,158.2 631.2,166.1 631.8,159.1 632.4,160.8 633.0,149.9 633.6,163.5 634.2,159.6 634.8,157.8 635.4,163.8 636.0,166.0 636.5,164.0 637.1,161.3 637.7,165.6 638.3,157.7 638.9,165.1 639.5,159.9 640.1,164.8 640.7,163.0 641.3,157.4 641.9,163.1 642.5,161.8 643.0,164.6 643.6,163.3 644.2,171.6 644.8,162.8 645.4,163.4 646.0,165.1 646.6,167.3 647.2,164.5 647.8,165.0 648.4,164.2 649.0,158.9 649.5,156.4 650.1,155.5 650.7,163.4 651.3,156.1 651.9,161.8 652.5,142.0 653.1,168.3 653.7,159.5 654.3,161.6 654.9,162.3 655.5,159.4 656.0,157.8 656.6,157.8 657.2,163.8 657.8,163.3 658.4,161.3 659.0,172.3 659.6,158.0 660.2,161.3 660.8,162.6 661.4,160.7 662.0,152.0 662.5,158.1 663.1,160.4 663.7,165.6 664.3,150.0 664.9,163.0 665.5,155.0 666.1,161.9 666.7,160.1 667.3,155.7 667.9,170.8 668.5,164.0 669.0,166.2 669.6,171.7 670.2,163.4 670.8,154.4 671.4,164.7 672.0,168.0 672.6,152.8 673.2,161.9 673.8,162.0 674.4,159.8 675.0,157.6 675.6,165.1 676.1,165.6 676.7,162.5 677.3,156.8 677.9,153.8 678.5,165.8 679.1,159.8 679.7,162.3 680.3,155.9 680.9,164.0 681.5,164.4 682.1,174.8 682.6,156.1 683.2,166.4 683.8,164.2 684.4,164.7 685.0,154.0 685.6,169.3 686.2,163.4 686.8,159.9 687.4,166.4 688.0,161.1 688.6,162.5 689.1,177.0 689.7,160.8 690.3,163.3 690.9,165.4 691.5,149.3 692.1,157.1 692.7,162.2 693.3,163.6 693.9,176.7 694.5,159.3 695.1,164.4 695.6,161.7 696.2,160.6 696.8,158.9 697.4,166.6 698.0,168.9 698.6,158.5 699.2,171.3 699.8,162.7 700.4,172.7 701.0,165.4 701.6,165.8 702.1,157.0 702.7,159.0 703.3,164.8 703.9,161.0 704.5,161.8 705.1,168.9 705.7,163.2 706.3,158.9 706.9,167.4 707.5,164.8 708.1,163.2 708.6,181.9 709.2,158.5 709.8,162.8 710.4,160.4 711.0,161.6 711.6,158.4 712.2,160.2 712.8,162.7 713.4,167.6 714.0,162.5 714.6,180.7 715.1,169.5 715.7,157.3 716.3,161.6 716.9,158.2 717.5,159.1 718.1,161.6 718.7,159.3 719.3,152.7 719.9,152.3 720.5,164.6 721.1,154.7 721.7,162.0 722.2,165.4 722.8,162.6 723.4,161.0 724.0,155.5 724.6,154.9 725.2,161.3 725.8,157.8" fill="none" stroke="#6aa84f" stroke-width="0.6"/>
<path d="M428.5 185.2 L430.0 186.7 L428.5 188.2 L427.0 186.7 Z" fill="#8cc06a" stroke="#5a9a3e" stroke-width="0.35" opacity="1"/>
<path d="M431.5 185.2 L433.0 186.7 L431.5 188.2 L430.0 186.7 Z" fill="#8cc06a" stroke="#5a9a3e" stroke-width="0.35" opacity="1"/>
<path d="M434.4 185.2 L435.9 186.7 L434.4 188.2 L432.9 186.7 Z" fill="#8cc06a" stroke="#5a9a3e" stroke-width="0.35" opacity="1"/>
<path d="M437.4 185.2 L438.9 186.7 L437.4 188.2 L435.9 186.7 Z" fill="#8cc06a" stroke="#5a9a3e" stroke-width="0.35" opacity="1"/>
<path d="M440.3 185.2 L441.8 186.7 L440.3 188.2 L438.8 186.7 Z" fill="#8cc06a" stroke="#5a9a3e" stroke-width="0.35" opacity="1"/>
<path d="M443.3 185.2 L444.8 186.7 L443.3 188.2 L441.8 186.7 Z" fill="#8cc06a" stroke="#5a9a3e" stroke-width="0.35" opacity="1"/>
<path d="M446.2 185.2 L447.7 186.7 L446.2 188.2 L444.7 186.7 Z" fill="#8cc06a" stroke="#5a9a3e" stroke-width="0.35" opacity="1"/>
<path d="M449.2 185.2 L450.7 186.7 L449.2 188.2 L447.7 186.7 Z" fill="#8cc06a" stroke="#5a9a3e" stroke-width="0.35" opacity="1"/>
<path d="M452.1 185.2 L453.6 186.7 L452.1 188.2 L450.6 186.7 Z" fill="#8cc06a" stroke="#5a9a3e" stroke-width="0.35" opacity="1"/>
<path d="M455.1 185.2 L456.6 186.7 L455.1 188.2 L453.6 186.7 Z" fill="#8cc06a" stroke="#5a9a3e" stroke-width="0.35" opacity="1"/>
<path d="M458.1 185.2 L459.6 186.7 L458.1 188.2 L456.6 186.7 Z" fill="#8cc06a" stroke="#5a9a3e" stroke-width="0.35" opacity="1"/>
<path d="M461.0 185.2 L462.5 186.7 L461.0 188.2 L459.5 186.7 Z" fill="#8cc06a" stroke="#5a9a3e" stroke-width="0.35" opacity="1"/>
<path d="M464.0 185.2 L465.5 186.7 L464.0 188.2 L462.5 186.7 Z" fill="#8cc06a" stroke="#5a9a3e" stroke-width="0.35" opacity="1"/>
<path d="M466.9 185.2 L468.4 186.7 L466.9 188.2 L465.4 186.7 Z" fill="#8cc06a" stroke="#5a9a3e" stroke-width="0.35" opacity="1"/>
<path d="M469.9 185.2 L471.4 186.7 L469.9 188.2 L468.4 186.7 Z" fill="#8cc06a" stroke="#5a9a3e" stroke-width="0.35" opacity="1"/>
<path d="M472.8 185.2 L474.3 186.7 L472.8 188.2 L471.3 186.7 Z" fill="#8cc06a" stroke="#5a9a3e" stroke-width="0.35" opacity="1"/>
<path d="M475.8 185.2 L477.3 186.7 L475.8 188.2 L474.3 186.7 Z" fill="#8cc06a" stroke="#5a9a3e" stroke-width="0.35" opacity="1"/>
<path d="M478.7 185.2 L480.2 186.7 L478.7 188.2 L477.2 186.7 Z" fill="#8cc06a" stroke="#5a9a3e" stroke-width="0.35" opacity="1"/>
<path d="M481.7 185.2 L483.2 186.7 L481.7 188.2 L480.2 186.7 Z" fill="#8cc06a" stroke="#5a9a3e" stroke-width="0.35" opacity="1"/>
<path d="M484.6 185.2 L486.1 186.7 L484.6 188.2 L483.1 186.7 Z" fill="#8cc06a" stroke="#5a9a3e" stroke-width="0.35" opacity="1"/>
<path d="M487.6 185.2 L489.1 186.7 L487.6 188.2 L486.1 186.7 Z" fill="#8cc06a" stroke="#5a9a3e" stroke-width="0.35" opacity="1"/>
<path d="M490.6 185.2 L492.1 186.7 L490.6 188.2 L489.1 186.7 Z" fill="#8cc06a" stroke="#5a9a3e" stroke-width="0.35" opacity="1"/>
<path d="M493.5 185.2 L495.0 186.7 L493.5 188.2 L492.0 186.7 Z" fill="#8cc06a" stroke="#5a9a3e" stroke-width="0.35" opacity="1"/>
<path d="M496.5 182.0 L498.0 183.5 L496.5 185.0 L495.0 183.5 Z" fill="#8cc06a" stroke="#5a9a3e" stroke-width="0.35" opacity="1"/>
<path d="M499.4 154.8 L500.7 156.1 L499.4 157.3 L498.2 156.1 Z" fill="#8cc06a" stroke="#5a9a3e" stroke-width="0.35" opacity="0.9"/>
<path d="M502.4 157.7 L503.6 158.9 L502.4 160.2 L501.1 158.9 Z" fill="#8cc06a" stroke="#5a9a3e" stroke-width="0.35" opacity="0.9"/>
<path d="M505.3 68.5 L506.6 69.8 L505.3 71.0 L504.1 69.8 Z" fill="#8cc06a" stroke="#5a9a3e" stroke-width="0.35" opacity="0.9"/>
<path d="M508.3 167.3 L509.5 168.6 L508.3 169.8 L507.0 168.6 Z" fill="#8cc06a" stroke="#5a9a3e" stroke-width="0.35" opacity="0.9"/>
<path d="M511.2 157.5 L512.5 158.8 L511.2 160.0 L510.0 158.8 Z" fill="#8cc06a" stroke="#5a9a3e" stroke-width="0.35" opacity="0.9"/>
<path d="M514.2 150.9 L515.4 152.1 L514.2 153.4 L512.9 152.1 Z" fill="#8cc06a" stroke="#5a9a3e" stroke-width="0.35" opacity="0.9"/>
<path d="M517.2 149.4 L518.4 150.6 L517.2 151.9 L515.9 150.6 Z" fill="#8cc06a" stroke="#5a9a3e" stroke-width="0.35" opacity="0.9"/>
<path d="M520.1 172.8 L521.4 174.1 L520.1 175.3 L518.9 174.1 Z" fill="#8cc06a" stroke="#5a9a3e" stroke-width="0.35" opacity="0.9"/>
<path d="M523.1 167.8 L524.3 169.1 L523.1 170.3 L521.8 169.1 Z" fill="#8cc06a" stroke="#5a9a3e" stroke-width="0.35" opacity="0.9"/>
<path d="M526.0 159.9 L527.3 161.2 L526.0 162.4 L524.8 161.2 Z" fill="#8cc06a" stroke="#5a9a3e" stroke-width="0.35" opacity="0.9"/>
<path d="M529.0 157.8 L530.2 159.0 L529.0 160.3 L527.7 159.0 Z" fill="#8cc06a" stroke="#5a9a3e" stroke-width="0.35" opacity="0.9"/>
<path d="M531.9 161.7 L533.2 162.9 L531.9 164.2 L530.7 162.9 Z" fill="#8cc06a" stroke="#5a9a3e" stroke-width="0.35" opacity="0.9"/>
<path d="M534.9 164.0 L536.1 165.2 L534.9 166.5 L533.6 165.2 Z" fill="#8cc06a" stroke="#5a9a3e" stroke-width="0.35" opacity="0.9"/>
<path d="M537.8 152.0 L539.1 153.2 L537.8 154.5 L536.6 153.2 Z" fill="#8cc06a" stroke="#5a9a3e" stroke-width="0.35" opacity="0.9"/>
<path d="M540.8 147.5 L542.0 148.7 L540.8 150.0 L539.5 148.7 Z" fill="#8cc06a" stroke="#5a9a3e" stroke-width="0.35" opacity="0.9"/>
<path d="M543.8 145.9 L545.0 147.1 L543.8 148.4 L542.5 147.1 Z" fill="#8cc06a" stroke="#5a9a3e" stroke-width="0.35" opacity="0.9"/>
<path d="M546.7 154.4 L548.0 155.6 L546.7 156.9 L545.5 155.6 Z" fill="#8cc06a" stroke="#5a9a3e" stroke-width="0.35" opacity="0.9"/>
<path d="M549.7 157.0 L550.9 158.2 L549.7 159.5 L548.4 158.2 Z" fill="#8cc06a" stroke="#5a9a3e" stroke-width="0.35" opacity="0.9"/>
<path d="M552.6 149.8 L553.9 151.1 L552.6 152.3 L551.4 151.1 Z" fill="#8cc06a" stroke="#5a9a3e" stroke-width="0.35" opacity="0.9"/>
<path d="M555.6 164.8 L556.8 166.0 L555.6 167.3 L554.3 166.0 Z" fill="#8cc06a" stroke="#5a9a3e" stroke-width="0.35" opacity="0.9"/>
<path d="M558.5 167.3 L559.8 168.6 L558.5 169.8 L557.3 168.6 Z" fill="#8cc06a" stroke="#5a9a3e" stroke-width="0.35" opacity="0.9"/>
<path d="M561.5 167.1 L562.7 168.3 L561.5 169.6 L560.2 168.3 Z" fill="#8cc06a" stroke="#5a9a3e" stroke-width="0.35" opacity="0.9"/>
<path d="M564.4 185.4 L565.7 186.7 L564.4 187.9 L563.2 186.7 Z" fill="#8cc06a" stroke="#5a9a3e" stroke-width="0.35" opacity="0.9"/>
<path d="M567.4 159.4 L568.6 160.6 L567.4 161.9 L566.1 160.6 Z" fill="#8cc06a" stroke="#5a9a3e" stroke-width="0.35" opacity="0.9"/>
<path d="M570.3 164.9 L571.6 166.2 L570.3 167.4 L569.1 166.2 Z" fill="#8cc06a" stroke="#5a9a3e" stroke-width="0.35" opacity="0.9"/>
<path d="M573.3 166.7 L574.6 167.9 L573.3 169.2 L572.1 167.9 Z" fill="#8cc06a" stroke="#5a9a3e" stroke-width="0.35" opacity="0.9"/>
<path d="M576.3 164.6 L577.5 165.9 L576.3 167.1 L575.0 165.9 Z" fill="#8cc06a" stroke="#5a9a3e" stroke-width="0.35" opacity="0.9"/>
<path d="M579.2 156.7 L580.5 157.9 L579.2 159.2 L578.0 157.9 Z" fill="#8cc06a" stroke="#5a9a3e" stroke-width="0.35" opacity="0.9"/>
<path d="M582.2 160.1 L583.4 161.3 L582.2 162.6 L580.9 161.3 Z" fill="#8cc06a" stroke="#5a9a3e" stroke-width="0.35" opacity="0.9"/>
<path d="M585.1 164.4 L586.4 165.7 L585.1 166.9 L583.9 165.7 Z" fill="#8cc06a" stroke="#5a9a3e" stroke-width="0.35" opacity="0.9"/>
<path d="M588.1 160.1 L589.3 161.4 L588.1 162.6 L586.8 161.4 Z" fill="#8cc06a" stroke="#5a9a3e" stroke-width="0.35" opacity="0.9"/>
<path d="M591.0 162.0 L592.3 163.2 L591.0 164.5 L589.8 163.2 Z" fill="#8cc06a" stroke="#5a9a3e" stroke-width="0.35" opacity="0.9"/>
<path d="M594.0 158.1 L595.2 159.4 L594.0 160.6 L592.7 159.4 Z" fill="#8cc06a" stroke="#5a9a3e" stroke-width="0.35" opacity="0.9"/>
<path d="M596.9 160.0 L598.2 161.3 L596.9 162.5 L595.7 161.3 Z" fill="#8cc06a" stroke="#5a9a3e" stroke-width="0.35" opacity="0.9"/>
<path d="M599.9 161.5 L601.1 162.8 L599.9 164.0 L598.6 162.8 Z" fill="#8cc06a" stroke="#5a9a3e" stroke-width="0.35" opacity="0.9"/>
<path d="M602.9 153.7 L604.1 155.0 L602.9 156.2 L601.6 155.0 Z" fill="#8cc06a" stroke="#5a9a3e" stroke-width="0.35" opacity="0.9"/>
<path d="M605.8 149.8 L607.1 151.0 L605.8 152.3 L604.6 151.0 Z" fill="#8cc06a" stroke="#5a9a3e" stroke-width="0.35" opacity="0.9"/>
<path d="M608.8 159.7 L610.0 160.9 L608.8 162.2 L607.5 160.9 Z" fill="#8cc06a" stroke="#5a9a3e" stroke-width="0.35" opacity="0.9"/>
<path d="M611.7 155.4 L613.0 156.6 L611.7 157.9 L610.5 156.6 Z" fill="#8cc06a" stroke="#5a9a3e" stroke-width="0.35" opacity="0.9"/>
<path d="M614.7 172.7 L615.9 173.9 L614.7 175.2 L613.4 173.9 Z" fill="#8cc06a" stroke="#5a9a3e" stroke-width="0.35" opacity="0.9"/>
<path d="M617.6 161.4 L618.9 162.6 L617.6 163.9 L616.4 162.6 Z" fill="#8cc06a" stroke="#5a9a3e" stroke-width="0.35" opacity="0.9"/>
<path d="M620.6 147.5 L621.8 148.8 L620.6 150.0 L619.3 148.8 Z" fill="#8cc06a" stroke="#5a9a3e" stroke-width="0.35" opacity="0.9"/>
<path d="M623.5 156.1 L624.8 157.4 L623.5 158.6 L622.3 157.4 Z" fill="#8cc06a" stroke="#5a9a3e" stroke-width="0.35" opacity="0.9"/>
<path d="M626.5 160.6 L627.7 161.8 L626.5 163.1 L625.2 161.8 Z" fill="#8cc06a" stroke="#5a9a3e" stroke-width="0.35" opacity="0.9"/>
<path d="M629.5 164.1 L630.7 165.4 L629.5 166.6 L628.2 165.4 Z" fill="#8cc06a" stroke="#5a9a3e" stroke-width="0.35" opacity="0.9"/>
<path d="M632.4 159.5 L633.7 160.8 L632.4 162.0 L631.2 160.8 Z" fill="#8cc06a" stroke="#5a9a3e" stroke-width="0.35" opacity="0.9"/>
<path d="M635.4 162.6 L636.6 163.8 L635.4 165.1 L634.1 163.8 Z" fill="#8cc06a" stroke="#5a9a3e" stroke-width="0.35" opacity="0.9"/>
<path d="M638.3 156.5 L639.6 157.7 L638.3 159.0 L637.1 157.7 Z" fill="#8cc06a" stroke="#5a9a3e" stroke-width="0.35" opacity="0.9"/>
<path d="M641.3 156.1 L642.5 157.4 L641.3 158.6 L640.0 157.4 Z" fill="#8cc06a" stroke="#5a9a3e" stroke-width="0.35" opacity="0.9"/>
<path d="M644.2 170.3 L645.5 171.6 L644.2 172.8 L643.0 171.6 Z" fill="#8cc06a" stroke="#5a9a3e" stroke-width="0.35" opacity="0.9"/>
<path d="M647.2 163.2 L648.4 164.5 L647.2 165.7 L645.9 164.5 Z" fill="#8cc06a" stroke="#5a9a3e" stroke-width="0.35" opacity="0.9"/>
<path d="M650.1 154.2 L651.4 155.5 L650.1 156.7 L648.9 155.5 Z" fill="#8cc06a" stroke="#5a9a3e" stroke-width="0.35" opacity="0.9"/>
<path d="M653.1 167.0 L654.3 168.3 L653.1 169.5 L651.8 168.3 Z" fill="#8cc06a" stroke="#5a9a3e" stroke-width="0.35" opacity="0.9"/>
<path d="M656.0 156.5 L657.3 157.8 L656.0 159.0 L654.8 157.8 Z" fill="#8cc06a" stroke="#5a9a3e" stroke-width="0.35" opacity="0.9"/>
<path d="M659.0 171.1 L660.3 172.3 L659.0 173.6 L657.8 172.3 Z" fill="#8cc06a" stroke="#5a9a3e" stroke-width="0.35" opacity="0.9"/>
<path d="M662.0 150.7 L663.2 152.0 L662.0 153.2 L660.7 152.0 Z" fill="#8cc06a" stroke="#5a9a3e" stroke-width="0.35" opacity="0.9"/>
<path d="M664.9 161.7 L666.2 163.0 L664.9 164.2 L663.7 163.0 Z" fill="#8cc06a" stroke="#5a9a3e" stroke-width="0.35" opacity="0.9"/>
<path d="M667.9 169.6 L669.1 170.8 L667.9 172.1 L666.6 170.8 Z" fill="#8cc06a" stroke="#5a9a3e" stroke-width="0.35" opacity="0.9"/>
<path d="M670.8 153.2 L672.1 154.4 L670.8 155.7 L669.6 154.4 Z" fill="#8cc06a" stroke="#5a9a3e" stroke-width="0.35" opacity="0.9"/>
<path d="M673.8 160.8 L675.0 162.0 L673.8 163.3 L672.5 162.0 Z" fill="#8cc06a" stroke="#5a9a3e" stroke-width="0.35" opacity="0.9"/>
<path d="M676.7 161.2 L678.0 162.5 L676.7 163.7 L675.5 162.5 Z" fill="#8cc06a" stroke="#5a9a3e" stroke-width="0.35" opacity="0.9"/>
<path d="M679.7 161.0 L680.9 162.3 L679.7 163.5 L678.4 162.3 Z" fill="#8cc06a" stroke="#5a9a3e" stroke-width="0.35" opacity="0.9"/>
<path d="M682.6 154.9 L683.9 156.1 L682.6 157.4 L681.4 156.1 Z" fill="#8cc06a" stroke="#5a9a3e" stroke-width="0.35" opacity="0.9"/>
<path d="M685.6 168.1 L686.8 169.3 L685.6 170.6 L684.3 169.3 Z" fill="#8cc06a" stroke="#5a9a3e" stroke-width="0.35" opacity="0.9"/>
<path d="M688.6 161.2 L689.8 162.5 L688.6 163.7 L687.3 162.5 Z" fill="#8cc06a" stroke="#5a9a3e" stroke-width="0.35" opacity="0.9"/>
<path d="M691.5 148.0 L692.8 149.3 L691.5 150.5 L690.3 149.3 Z" fill="#8cc06a" stroke="#5a9a3e" stroke-width="0.35" opacity="0.9"/>
<path d="M694.5 158.0 L695.7 159.3 L694.5 160.5 L693.2 159.3 Z" fill="#8cc06a" stroke="#5a9a3e" stroke-width="0.35" opacity="0.9"/>
<path d="M697.4 165.3 L698.7 166.6 L697.4 167.8 L696.2 166.6 Z" fill="#8cc06a" stroke="#5a9a3e" stroke-width="0.35" opacity="0.9"/>
<path d="M700.4 171.5 L701.6 172.7 L700.4 174.0 L699.1 172.7 Z" fill="#8cc06a" stroke="#5a9a3e" stroke-width="0.35" opacity="0.9"/>
<path d="M703.3 163.5 L704.6 164.8 L703.3 166.0 L702.1 164.8 Z" fill="#8cc06a" stroke="#5a9a3e" stroke-width="0.35" opacity="0.9"/>
<path d="M706.3 157.6 L707.5 158.9 L706.3 160.1 L705.0 158.9 Z" fill="#8cc06a" stroke="#5a9a3e" stroke-width="0.35" opacity="0.9"/>
<path d="M709.2 157.2 L710.5 158.5 L709.2 159.7 L708.0 158.5 Z" fill="#8cc06a" stroke="#5a9a3e" stroke-width="0.35" opacity="0.9"/>
<path d="M712.2 158.9 L713.4 160.2 L712.2 161.4 L710.9 160.2 Z" fill="#8cc06a" stroke="#5a9a3e" stroke-width="0.35" opacity="0.9"/>
<path d="M715.1 168.3 L716.4 169.5 L715.1 170.8 L713.9 169.5 Z" fill="#8cc06a" stroke="#5a9a3e" stroke-width="0.35" opacity="0.9"/>
<path d="M718.1 160.3 L719.4 161.6 L718.1 162.8 L716.9 161.6 Z" fill="#8cc06a" stroke="#5a9a3e" stroke-width="0.35" opacity="0.9"/>
<path d="M721.1 153.5 L722.3 154.7 L721.1 156.0 L719.8 154.7 Z" fill="#8cc06a" stroke="#5a9a3e" stroke-width="0.35" opacity="0.9"/>
<path d="M724.0 154.3 L725.3 155.5 L724.0 156.8 L722.8 155.5 Z" fill="#8cc06a" stroke="#5a9a3e" stroke-width="0.35" opacity="0.9"/>
<polyline points="428.5,236.4 429.1,236.4 429.7,236.4 430.3,236.4 430.9,236.4 431.5,236.4 432.0,236.4 432.6,236.4 433.2,236.4 433.8,236.4 434.4,236.4 435.0,236.4 435.6,236.4 436.2,236.4 436.8,236.4 437.4,236.4 438.0,236.4 438.5,236.4 439.1,236.4 439.7,236.4 440.3,236.4 440.9,236.4 441.5,236.4 442.1,236.4 442.7,236.4 443.3,236.4 443.9,236.4 444.5,236.4 445.0,236.4 445.6,236.4 446.2,236.4 446.8,236.4 447.4,236.4 448.0,236.4 448.6,236.4 449.2,236.4 449.8,236.4 450.4,236.4 451.0,236.4 451.6,236.4 452.1,236.4 452.7,236.4 453.3,236.4 453.9,236.4 454.5,236.4 455.1,236.4 455.7,236.4 456.3,236.4 456.9,236.4 457.5,236.4 458.1,236.4 458.6,236.4 459.2,236.4 459.8,236.4 460.4,236.4 461.0,236.4 461.6,236.4 462.2,236.4 462.8,236.4 463.4,236.4 464.0,236.4 464.6,236.4 465.1,236.4 465.7,236.4 466.3,236.4 466.9,236.4 467.5,236.4 468.1,236.4 468.7,236.4 469.3,236.4 469.9,236.4 470.5,236.4 471.1,236.4 471.6,236.4 472.2,236.4 472.8,236.4 473.4,236.4 474.0,236.4 474.6,236.4 475.2,236.4 475.8,236.4 476.4,236.4 477.0,236.4 477.6,236.4 478.1,236.4 478.7,236.4 479.3,236.4 479.9,236.4 480.5,236.4 481.1,236.4 481.7,236.4 482.3,236.4 482.9,236.4 483.5,236.4 484.1,236.4 484.6,236.4 485.2,236.4 485.8,236.4 486.4,236.4 487.0,236.4 487.6,236.4 488.2,236.4 488.8,236.4 489.4,236.4 490.0,236.4 490.6,236.4 491.1,236.4 491.7,236.4 492.3,236.4 492.9,236.4 493.5,236.4 494.1,236.4 494.7,236.4 495.3,236.4 495.9,236.4 496.5,229.4 497.1,227.3 497.7,233.3 498.2,219.4 498.8,234.5 499.4,211.0 500.0,183.1 500.6,174.7 501.2,168.0 501.8,166.3 502.4,141.8 503.0,103.3 503.6,129.5 504.2,195.8 504.7,208.2 505.3,212.1 505.9,170.8 506.5,204.6 507.1,198.9 507.7,221.0 508.3,218.2 508.9,209.2 509.5,201.0 510.1,217.3 510.7,230.7 511.2,205.1 511.8,219.7 512.4,211.3 513.0,225.0 513.6,213.7 514.2,209.8 514.8,214.1 515.4,220.9 516.0,215.2 516.6,227.6 517.2,222.7 517.7,221.1 518.3,211.6 518.9,227.3 519.5,211.7 520.1,214.7 520.7,202.8 521.3,221.4 521.9,224.5 522.5,223.2 523.1,211.9 523.7,201.5 524.2,214.1 524.8,216.8 525.4,219.4 526.0,208.4 526.6,206.0 527.2,224.8 527.8,218.7 528.4,205.5 529.0,204.0 529.6,214.2 530.2,214.3 530.7,210.6 531.3,208.2 531.9,219.3 532.5,199.2 533.1,205.5 533.7,199.3 534.3,209.5 534.9,183.3 535.5,196.5 536.1,203.3 536.7,182.2 537.2,194.3 537.8,188.3 538.4,214.6 539.0,212.2 539.6,188.9 540.2,197.2 540.8,192.4 541.4,201.4 542.0,167.0 542.6,191.6 543.2,183.2 543.8,206.9 544.3,192.5 544.9,208.8 545.5,182.2 546.1,195.0 546.7,209.8 547.3,209.8 547.9,196.5 548.5,211.6 549.1,206.3 549.7,201.4 550.3,201.6 550.8,201.5 551.4,202.0 552.0,206.6 552.6,204.0 553.2,213.6 553.8,210.9 554.4,202.6 555.0,215.5 555.6,213.8 556.2,213.8 556.8,210.4 557.3,236.4 557.9,226.3 558.5,211.6 559.1,217.5 559.7,209.3 560.3,207.1 560.9,211.2 561.5,209.6 562.1,213.7 562.7,225.0 563.3,213.4 563.8,214.4 564.4,211.9 565.0,219.9 565.6,217.3 566.2,208.4 566.8,216.8 567.4,214.7 568.0,203.5 568.6,216.9 569.2,220.2 569.8,211.6 570.3,213.5 570.9,213.1 571.5,226.5 572.1,215.3 572.7,236.4 573.3,217.9 573.9,211.9 574.5,224.7 575.1,217.0 575.7,196.4 576.3,200.6 576.8,214.5 577.4,211.2 578.0,212.7 578.6,214.4 579.2,207.9 579.8,219.0 580.4,208.5 581.0,225.7 581.6,207.0 582.2,211.2 582.8,213.7 583.3,211.0 583.9,213.3 584.5,208.7 585.1,219.9 585.7,212.4 586.3,205.6 586.9,202.6 587.5,216.2 588.1,215.4 588.7,203.6 589.3,213.6 589.9,222.5 590.4,208.7 591.0,212.3 591.6,208.1 592.2,211.4 592.8,211.1 593.4,211.9 594.0,213.6 594.6,202.6 595.2,208.6 595.8,206.2 596.4,202.5 596.9,213.9 597.5,201.0 598.1,203.6 598.7,210.1 599.3,209.3 599.9,217.5 600.5,206.0 601.1,215.2 601.7,209.3 602.3,216.7 602.9,219.4 603.4,208.2 604.0,209.5 604.6,207.1 605.2,204.8 605.8,191.9 606.4,218.4 607.0,207.6 607.6,208.2 608.2,207.2 608.8,208.6 609.4,208.4 609.9,202.2 610.5,209.6 611.1,208.7 611.7,206.6 612.3,218.0 612.9,209.9 613.5,217.4 614.1,215.9 614.7,236.4 615.3,213.9 615.9,213.8 616.4,209.4 617.0,208.9 617.6,204.4 618.2,210.0 618.8,202.2 619.4,211.2 620.0,206.7 620.6,209.7 621.2,208.9 621.8,213.5 622.4,200.2 622.9,206.8 623.5,216.9 624.1,210.5 624.7,187.3 625.3,222.5 625.9,213.6 626.5,208.0 627.1,223.8 627.7,208.1 628.3,210.7 628.9,208.6 629.5,211.2 630.0,201.5 630.6,213.6 631.2,211.2 631.8,223.0 632.4,211.5 633.0,213.0 633.6,195.9 634.2,201.6 634.8,218.5 635.4,224.3 636.0,219.2 636.5,217.1 637.1,209.7 637.7,212.2 638.3,212.3 638.9,213.0 639.5,233.2 640.1,213.9 640.7,183.5 641.3,207.9 641.9,212.0 642.5,217.2 643.0,204.0 643.6,213.5 644.2,211.5 644.8,217.0 645.4,214.7 646.0,214.5 646.6,213.8 647.2,227.4 647.8,210.8 648.4,217.7 649.0,211.4 649.5,211.2 650.1,210.1 650.7,215.0 651.3,215.0 651.9,208.9 652.5,213.5 653.1,217.9 653.7,204.3 654.3,229.6 654.9,205.0 655.5,214.7 656.0,213.4 656.6,196.9 657.2,212.6 657.8,209.2 658.4,212.8 659.0,203.4 659.6,209.1 660.2,212.0 660.8,220.4 661.4,213.3 662.0,211.8 662.5,214.5 663.1,211.4 663.7,215.9 664.3,211.7 664.9,211.4 665.5,209.6 666.1,208.4 666.7,208.6 667.3,212.4 667.9,212.0 668.5,204.9 669.0,213.1 669.6,208.4 670.2,190.1 670.8,202.4 671.4,211.1 672.0,213.9 672.6,210.2 673.2,209.3 673.8,211.3 674.4,213.4 675.0,212.0 675.6,220.3 676.1,214.2 676.7,217.5 677.3,209.6 677.9,199.4 678.5,217.1 679.1,225.4 679.7,208.3 680.3,213.2 680.9,211.5 681.5,221.7 682.1,216.5 682.6,209.1 683.2,210.4 683.8,205.6 684.4,198.9 685.0,213.1 685.6,210.2 686.2,212.1 686.8,211.5 687.4,212.7 688.0,196.5 688.6,210.2 689.1,217.6 689.7,209.1 690.3,198.6 690.9,204.0 691.5,210.9 692.1,228.6 692.7,207.0 693.3,201.9 693.9,208.5 694.5,212.3 695.1,212.8 695.6,208.3 696.2,219.0 696.8,207.5 697.4,211.5 698.0,221.0 698.6,206.5 699.2,212.7 699.8,219.0 700.4,216.6 701.0,205.4 701.6,216.7 702.1,207.5 702.7,207.0 703.3,220.0 703.9,212.2 704.5,207.4 705.1,211.6 705.7,205.2 706.3,212.9 706.9,210.1 707.5,215.6 708.1,205.9 708.6,206.0 709.2,210.8 709.8,213.6 710.4,213.3 711.0,210.5 711.6,218.1 712.2,211.4 712.8,214.1 713.4,213.4 714.0,213.7 714.6,206.2 715.1,216.6 715.7,215.2 716.3,216.9 716.9,228.5 717.5,212.3 718.1,205.9 718.7,203.6 719.3,211.7 719.9,212.4 720.5,205.1 721.1,211.2 721.7,211.0 722.2,209.8 722.8,220.4 723.4,206.1 724.0,219.0 724.6,211.2 725.2,202.3 725.8,211.0" fill="none" stroke="#f0484c" stroke-width="0.5"/>
</g>
<rect x="428.5" y="37.4" width="297.4" height="199.0" fill="none" stroke="#555" stroke-width="0.5"/>
<line x1="428.5" y1="236.40" x2="431.5" y2="236.40" stroke="#555" stroke-width="0.4"/>
<line x1="428.5" y1="223.97" x2="430.0" y2="223.97" stroke="#555" stroke-width="0.4"/>
<line x1="428.5" y1="211.53" x2="431.5" y2="211.53" stroke="#555" stroke-width="0.4"/>
<line x1="428.5" y1="199.09" x2="430.0" y2="199.09" stroke="#555" stroke-width="0.4"/>
<line x1="428.5" y1="186.66" x2="431.5" y2="186.66" stroke="#555" stroke-width="0.4"/>
<line x1="428.5" y1="174.22" x2="430.0" y2="174.22" stroke="#555" stroke-width="0.4"/>
<line x1="428.5" y1="161.79" x2="431.5" y2="161.79" stroke="#555" stroke-width="0.4"/>
<line x1="428.5" y1="149.36" x2="430.0" y2="149.36" stroke="#555" stroke-width="0.4"/>
<line x1="428.5" y1="136.92" x2="431.5" y2="136.92" stroke="#555" stroke-width="0.4"/>
<line x1="428.5" y1="124.48" x2="430.0" y2="124.48" stroke="#555" stroke-width="0.4"/>
<line x1="428.5" y1="112.05" x2="431.5" y2="112.05" stroke="#555" stroke-width="0.4"/>
<line x1="428.5" y1="99.62" x2="430.0" y2="99.62" stroke="#555" stroke-width="0.4"/>
<line x1="428.5" y1="87.18" x2="431.5" y2="87.18" stroke="#555" stroke-width="0.4"/>
<line x1="428.5" y1="74.75" x2="430.0" y2="74.75" stroke="#555" stroke-width="0.4"/>
<line x1="428.5" y1="62.31" x2="431.5" y2="62.31" stroke="#555" stroke-width="0.4"/>
<line x1="428.5" y1="49.88" x2="430.0" y2="49.88" stroke="#555" stroke-width="0.4"/>
<line x1="428.50" y1="236.4" x2="428.50" y2="234.0" stroke="#555" stroke-width="0.4"/>
<line x1="443.35" y1="236.4" x2="443.35" y2="235.1" stroke="#555" stroke-width="0.4"/>
<line x1="458.20" y1="236.4" x2="458.20" y2="234.0" stroke="#555" stroke-width="0.4"/>
<line x1="473.05" y1="236.4" x2="473.05" y2="235.1" stroke="#555" stroke-width="0.4"/>
<line x1="487.90" y1="236.4" x2="487.90" y2="234.0" stroke="#555" stroke-width="0.4"/>
<line x1="502.75" y1="236.4" x2="502.75" y2="235.1" stroke="#555" stroke-width="0.4"/>
<line x1="517.60" y1="236.4" x2="517.60" y2="234.0" stroke="#555" stroke-width="0.4"/>
<line x1="532.45" y1="236.4" x2="532.45" y2="235.1" stroke="#555" stroke-width="0.4"/>
<line x1="547.30" y1="236.4" x2="547.30" y2="234.0" stroke="#555" stroke-width="0.4"/>
<line x1="562.15" y1="236.4" x2="562.15" y2="235.1" stroke="#555" stroke-width="0.4"/>
<line x1="577.00" y1="236.4" x2="577.00" y2="234.0" stroke="#555" stroke-width="0.4"/>
<line x1="591.85" y1="236.4" x2="591.85" y2="235.1" stroke="#555" stroke-width="0.4"/>
<line x1="606.70" y1="236.4" x2="606.70" y2="234.0" stroke="#555" stroke-width="0.4"/>
<line x1="621.55" y1="236.4" x2="621.55" y2="235.1" stroke="#555" stroke-width="0.4"/>
<line x1="636.40" y1="236.4" x2="636.40" y2="234.0" stroke="#555" stroke-width="0.4"/>
<line x1="651.25" y1="236.4" x2="651.25" y2="235.1" stroke="#555" stroke-width="0.4"/>
<line x1="666.10" y1="236.4" x2="666.10" y2="234.0" stroke="#555" stroke-width="0.4"/>
<line x1="680.95" y1="236.4" x2="680.95" y2="235.1" stroke="#555" stroke-width="0.4"/>
<line x1="695.80" y1="236.4" x2="695.80" y2="234.0" stroke="#555" stroke-width="0.4"/>
<line x1="710.65" y1="236.4" x2="710.65" y2="235.1" stroke="#555" stroke-width="0.4"/>
<text x="421.00" y="238.30" font-size="5.3" fill="#333" text-anchor="end" font-weight="normal" font-family='"DejaVu Sans", "Liberation Sans", sans-serif' >0.0</text>
<text x="421.00" y="213.43" font-size="5.3" fill="#333" text-anchor="end" font-weight="normal" font-family='"DejaVu Sans", "Liberation Sans", sans-serif' >1.0</text>
<text x="421.00" y="188.56" font-size="5.3" fill="#333" text-anchor="end" font-weight="normal" font-family='"DejaVu Sans", "Liberation Sans", sans-serif' >2.0</text>
<text x="421.00" y="163.69" font-size="5.3" fill="#333" text-anchor="end" font-weight="normal" font-family='"DejaVu Sans", "Liberation Sans", sans-serif' >3.0</text>
<text x="421.00" y="138.82" font-size="5.3" fill="#333" text-anchor="end" font-weight="normal" font-family='"DejaVu Sans", "Liberation Sans", sans-serif' >4.0</text>
<text x="421.00" y="113.95" font-size="5.3" fill="#333" text-anchor="end" font-weight="normal" font-family='"DejaVu Sans", "Liberation Sans", sans-serif' >5.0</text>
<text x="421.00" y="89.08" font-size="5.3" fill="#333" text-anchor="end" font-weight="normal" font-family='"DejaVu Sans", "Liberation Sans", sans-serif' >6.0</text>
<text x="421.00" y="64.21" font-size="5.3" fill="#333" text-anchor="end" font-weight="normal" font-family='"DejaVu Sans", "Liberation Sans", sans-serif' >7.0</text>
<g transform="translate(433.70,245.00) rotate(-20)">
<text x="0.00" y="0.00" font-size="5.4" fill="#333" text-anchor="end" font-weight="normal" font-family='"DejaVu Sans", "Liberation Sans", sans-serif' >0.0</text>
</g>
<g transform="translate(463.40,245.00) rotate(-20)">
<text x="0.00" y="0.00" font-size="5.4" fill="#333" text-anchor="end" font-weight="normal" font-family='"DejaVu Sans", "Liberation Sans", sans-serif' >1.0</text>
</g>
<g transform="translate(493.10,245.00) rotate(-20)">
<text x="0.00" y="0.00" font-size="5.4" fill="#333" text-anchor="end" font-weight="normal" font-family='"DejaVu Sans", "Liberation Sans", sans-serif' >2.0</text>
</g>
<g transform="translate(522.80,245.00) rotate(-20)">
<text x="0.00" y="0.00" font-size="5.4" fill="#333" text-anchor="end" font-weight="normal" font-family='"DejaVu Sans", "Liberation Sans", sans-serif' >3.0</text>
</g>
<g transform="translate(552.50,245.00) rotate(-20)">
<text x="0.00" y="0.00" font-size="5.4" fill="#333" text-anchor="end" font-weight="normal" font-family='"DejaVu Sans", "Liberation Sans", sans-serif' >4.0</text>
</g>
<g transform="translate(582.20,245.00) rotate(-20)">
<text x="0.00" y="0.00" font-size="5.4" fill="#333" text-anchor="end" font-weight="normal" font-family='"DejaVu Sans", "Liberation Sans", sans-serif' >5.0</text>
</g>
<g transform="translate(611.90,245.00) rotate(-20)">
<text x="0.00" y="0.00" font-size="5.4" fill="#333" text-anchor="end" font-weight="normal" font-family='"DejaVu Sans", "Liberation Sans", sans-serif' >6.0</text>
</g>
<g transform="translate(641.60,245.00) rotate(-20)">
<text x="0.00" y="0.00" font-size="5.4" fill="#333" text-anchor="end" font-weight="normal" font-family='"DejaVu Sans", "Liberation Sans", sans-serif' >7.0</text>
</g>
<g transform="translate(671.30,245.00) rotate(-20)">
<text x="0.00" y="0.00" font-size="5.4" fill="#333" text-anchor="end" font-weight="normal" font-family='"DejaVu Sans", "Liberation Sans", sans-serif' >8.0</text>
</g>
<g transform="translate(701.00,245.00) rotate(-20)">
<text x="0.00" y="0.00" font-size="5.4" fill="#333" text-anchor="end" font-weight="normal" font-family='"DejaVu Sans", "Liberation Sans", sans-serif' >9.0</text>
</g>
<g transform="translate(401.6,139) rotate(-90)">
<text x="0.00" y="0.00" font-size="10.5" fill="#111" text-anchor="middle" font-weight="bold" font-family='"Liberation Serif", "DejaVu Serif", serif' textLength="66.00" lengthAdjust="spacingAndGlyphs" font-style="italic">g(r) neutrons</text>
</g>
<text x="581.00" y="258.00" font-size="9.5" fill="#111" text-anchor="middle" font-weight="bold" font-family='"DejaVu Sans", "Liberation Sans", sans-serif' textLength="23.00" lengthAdjust="spacingAndGlyphs" >r [Å]</text>
<line x1="598.3" y1="61.4" x2="607.2" y2="61.4" stroke="#9db8e2" stroke-width="0.55" stroke-dasharray="0.8,0.6"/>
<line x1="598.3" y1="68.8" x2="607.2" y2="68.8" stroke="#6aa84f" stroke-width="0.7"/>
<path d="M598.8 67.2 L600.4 68.8 L598.8 70.39999999999999 L597.1999999999999 68.8 Z" fill="#8cc06a" stroke="#5a9a3e" stroke-width="0.35"/>
<path d="M606.8 67.2 L608.4 68.8 L606.8 70.39999999999999 L605.1999999999999 68.8 Z" fill="#8cc06a" stroke="#5a9a3e" stroke-width="0.35"/>
<line x1="598.3" y1="75.9" x2="607.2" y2="75.9" stroke="#f0484c" stroke-width="0.55"/>
<text x="611.60" y="63.30" font-size="5.0" fill="#333" text-anchor="start" font-weight="normal" font-family='"DejaVu Sans", "Liberation Sans", sans-serif' textLength="61.40" lengthAdjust="spacingAndGlyphs" >l-GeSe [BLYP] - g(r) neutrons</text>
<text x="611.60" y="70.70" font-size="5.0" fill="#333" text-anchor="start" font-weight="normal" font-family='"DejaVu Sans", "Liberation Sans", sans-serif' textLength="59.00" lengthAdjust="spacingAndGlyphs" >l-GeSe [PBE] - g(r) neutrons</text>
<text x="611.60" y="77.80" font-size="5.0" fill="#333" text-anchor="start" font-weight="normal" font-family='"DejaVu Sans", "Liberation Sans", sans-serif' textLength="63.60" lengthAdjust="spacingAndGlyphs" >l-GeSe [PW91] - g(r) neutrons</text>
<rect x="647.10" y="196.30" width="101.00" height="212.60" fill="#000" opacity="0.22" filter="url(#sh2)"/>
<rect x="649.60" y="197.30" width="96.50" height="210.80" fill="#000" opacity="0.55" filter="url(#sh)"/>
<rect x="648.1" y="195.3" width="99.0" height="210.59999999999997" rx="1.5" fill="#303032"/>
<rect x="648.10" y="204.00" width="99.00" height="189.40" fill="#252527" />
<clipPath id="cld"><rect x="648.1" y="218.3" width="99" height="175.1"/></clipPath><g clip-path="url(#cld)">
<text x="649.80" y="220.77" font-size="5.67" fill="#f4f4f4" text-anchor="start" font-weight="bold" font-family='"Liberation Sans", sans-serif' textLength="8.00" lengthAdjust="spacingAndGlyphs" >151</text>
<text x="665.80" y="220.77" font-size="5.67" fill="#f4f4f4" text-anchor="start" font-weight="bold" font-family='"Liberation Sans", sans-serif' textLength="19.20" lengthAdjust="spacingAndGlyphs" >2.986819</text>
<text x="709.30" y="220.77" font-size="5.67" fill="#f4f4f4" text-anchor="start" font-weight="bold" font-family='"Liberation Sans", sans-serif' textLength="19.90" lengthAdjust="spacingAndGlyphs" >0.212949</text>
<text x="649.80" y="228.40" font-size="5.67" fill="#f4f4f4" text-anchor="start" font-weight="bold" font-family='"Liberation Sans", sans-serif' textLength="8.00" lengthAdjust="spacingAndGlyphs" >152</text>
<text x="665.80" y="228.40" font-size="5.67" fill="#f4f4f4" text-anchor="start" font-weight="bold" font-family='"Liberation Sans", sans-serif' textLength="19.20" lengthAdjust="spacingAndGlyphs" >3.006731</text>
<text x="709.30" y="228.40" font-size="5.67" fill="#f4f4f4" text-anchor="start" font-weight="bold" font-family='"Liberation Sans", sans-serif' textLength="19.90" lengthAdjust="spacingAndGlyphs" >0.420295</text>
<text x="649.80" y="236.03" font-size="5.67" fill="#f4f4f4" text-anchor="start" font-weight="bold" font-family='"Liberation Sans", sans-serif' textLength="8.00" lengthAdjust="spacingAndGlyphs" >153</text>
<text x="665.80" y="236.03" font-size="5.67" fill="#f4f4f4" text-anchor="start" font-weight="bold" font-family='"Liberation Sans", sans-serif' textLength="19.20" lengthAdjust="spacingAndGlyphs" >3.026643</text>
<text x="709.30" y="236.03" font-size="5.67" fill="#f4f4f4" text-anchor="start" font-weight="bold" font-family='"Liberation Sans", sans-serif' textLength="19.90" lengthAdjust="spacingAndGlyphs" >1.668816</text>
<text x="649.80" y="243.66" font-size="5.67" fill="#f4f4f4" text-anchor="start" font-weight="bold" font-family='"Liberation Sans", sans-serif' textLength="8.00" lengthAdjust="spacingAndGlyphs" >154</text>
<text x="665.80" y="243.66" font-size="5.67" fill="#f4f4f4" text-anchor="start" font-weight="bold" font-family='"Liberation Sans", sans-serif' textLength="19.20" lengthAdjust="spacingAndGlyphs" >3.046555</text>
<text x="709.30" y="243.66" font-size="5.67" fill="#f4f4f4" text-anchor="start" font-weight="bold" font-family='"Liberation Sans", sans-serif' textLength="19.90" lengthAdjust="spacingAndGlyphs" >0.409414</text>
<text x="649.80" y="251.29" font-size="5.67" fill="#f4f4f4" text-anchor="start" font-weight="bold" font-family='"Liberation Sans", sans-serif' textLength="8.00" lengthAdjust="spacingAndGlyphs" >155</text>
<text x="665.80" y="251.29" font-size="5.67" fill="#f4f4f4" text-anchor="start" font-weight="bold" font-family='"Liberation Sans", sans-serif' textLength="19.20" lengthAdjust="spacingAndGlyphs" >3.066467</text>
<text x="709.30" y="251.29" font-size="5.67" fill="#f4f4f4" text-anchor="start" font-weight="bold" font-family='"Liberation Sans", sans-serif' textLength="19.90" lengthAdjust="spacingAndGlyphs" >2.058121</text>
<text x="649.80" y="258.92" font-size="5.67" fill="#f4f4f4" text-anchor="start" font-weight="bold" font-family='"Liberation Sans", sans-serif' textLength="8.00" lengthAdjust="spacingAndGlyphs" >156</text>
<text x="665.80" y="258.92" font-size="5.67" fill="#f4f4f4" text-anchor="start" font-weight="bold" font-family='"Liberation Sans", sans-serif' textLength="19.20" lengthAdjust="spacingAndGlyphs" >3.086380</text>
<text x="709.30" y="258.92" font-size="5.67" fill="#f4f4f4" text-anchor="start" font-weight="bold" font-family='"Liberation Sans", sans-serif' textLength="19.90" lengthAdjust="spacingAndGlyphs" >0.408196</text>
<text x="649.80" y="266.55" font-size="5.67" fill="#f4f4f4" text-anchor="start" font-weight="bold" font-family='"Liberation Sans", sans-serif' textLength="8.00" lengthAdjust="spacingAndGlyphs" >157</text>
<text x="665.80" y="266.55" font-size="5.67" fill="#f4f4f4" text-anchor="start" font-weight="bold" font-family='"Liberation Sans", sans-serif' textLength="19.20" lengthAdjust="spacingAndGlyphs" >3.106292</text>
<text x="709.30" y="266.55" font-size="5.67" fill="#f4f4f4" text-anchor="start" font-weight="bold" font-family='"Liberation Sans", sans-serif' textLength="19.90" lengthAdjust="spacingAndGlyphs" >0.196934</text>
<text x="649.80" y="274.18" font-size="5.67" fill="#f4f4f4" text-anchor="start" font-weight="bold" font-family='"Liberation Sans", sans-serif' textLength="8.00" lengthAdjust="spacingAndGlyphs" >158</text>
<text x="665.80" y="274.18" font-size="5.67" fill="#f4f4f4" text-anchor="start" font-weight="bold" font-family='"Liberation Sans", sans-serif' textLength="19.20" lengthAdjust="spacingAndGlyphs" >3.126204</text>
<text x="709.30" y="274.18" font-size="5.67" fill="#f4f4f4" text-anchor="start" font-weight="bold" font-family='"Liberation Sans", sans-serif' textLength="19.90" lengthAdjust="spacingAndGlyphs" >0.397895</text>
<text x="649.80" y="281.81" font-size="5.67" fill="#f4f4f4" text-anchor="start" font-weight="bold" font-family='"Liberation Sans", sans-serif' textLength="8.00" lengthAdjust="spacingAndGlyphs" >159</text>
<text x="665.80" y="281.81" font-size="5.67" fill="#f4f4f4" text-anchor="start" font-weight="bold" font-family='"Liberation Sans", sans-serif' textLength="19.20" lengthAdjust="spacingAndGlyphs" >3.146116</text>
<text x="709.30" y="281.81" font-size="5.67" fill="#f4f4f4" text-anchor="start" font-weight="bold" font-family='"Liberation Sans", sans-serif' textLength="19.90" lengthAdjust="spacingAndGlyphs" >0.575986</text>
<text x="649.80" y="289.44" font-size="5.67" fill="#f4f4f4" text-anchor="start" font-weight="bold" font-family='"Liberation Sans", sans-serif' textLength="8.00" lengthAdjust="spacingAndGlyphs" >160</text>
<text x="665.80" y="289.44" font-size="5.67" fill="#f4f4f4" text-anchor="start" font-weight="bold" font-family='"Liberation Sans", sans-serif' textLength="19.20" lengthAdjust="spacingAndGlyphs" >3.166028</text>
<text x="709.30" y="289.44" font-size="5.67" fill="#f4f4f4" text-anchor="start" font-weight="bold" font-family='"Liberation Sans", sans-serif' textLength="19.90" lengthAdjust="spacingAndGlyphs" >0.953772</text>
<text x="649.80" y="297.07" font-size="5.67" fill="#f4f4f4" text-anchor="start" font-weight="bold" font-family='"Liberation Sans", sans-serif' textLength="8.00" lengthAdjust="spacingAndGlyphs" >161</text>
<text x="665.80" y="297.07" font-size="5.67" fill="#f4f4f4" text-anchor="start" font-weight="bold" font-family='"Liberation Sans", sans-serif' textLength="19.20" lengthAdjust="spacingAndGlyphs" >3.185940</text>
<text x="709.30" y="297.07" font-size="5.67" fill="#f4f4f4" text-anchor="start" font-weight="bold" font-family='"Liberation Sans", sans-serif' textLength="19.90" lengthAdjust="spacingAndGlyphs" >0.381681</text>
<text x="649.80" y="304.70" font-size="5.67" fill="#f4f4f4" text-anchor="start" font-weight="bold" font-family='"Liberation Sans", sans-serif' textLength="8.00" lengthAdjust="spacingAndGlyphs" >162</text>
<text x="665.80" y="304.70" font-size="5.67" fill="#f4f4f4" text-anchor="start" font-weight="bold" font-family='"Liberation Sans", sans-serif' textLength="19.20" lengthAdjust="spacingAndGlyphs" >3.205852</text>
<text x="709.30" y="304.70" font-size="5.67" fill="#f4f4f4" text-anchor="start" font-weight="bold" font-family='"Liberation Sans", sans-serif' textLength="19.90" lengthAdjust="spacingAndGlyphs" >0.369857</text>
<text x="649.80" y="312.33" font-size="5.67" fill="#f4f4f4" text-anchor="start" font-weight="bold" font-family='"Liberation Sans", sans-serif' textLength="8.00" lengthAdjust="spacingAndGlyphs" >163</text>
<text x="665.80" y="312.33" font-size="5.67" fill="#f4f4f4" text-anchor="start" font-weight="bold" font-family='"Liberation Sans", sans-serif' textLength="19.20" lengthAdjust="spacingAndGlyphs" >3.225765</text>
<text x="709.30" y="312.33" font-size="5.67" fill="#f4f4f4" text-anchor="start" font-weight="bold" font-family='"Liberation Sans", sans-serif' textLength="19.90" lengthAdjust="spacingAndGlyphs" >0.730639</text>
<text x="649.80" y="319.96" font-size="5.67" fill="#f4f4f4" text-anchor="start" font-weight="bold" font-family='"Liberation Sans", sans-serif' textLength="8.00" lengthAdjust="spacingAndGlyphs" >164</text>
<text x="665.80" y="319.96" font-size="5.67" fill="#f4f4f4" text-anchor="start" font-weight="bold" font-family='"Liberation Sans", sans-serif' textLength="19.20" lengthAdjust="spacingAndGlyphs" >3.245677</text>
<text x="709.30" y="319.96" font-size="5.67" fill="#f4f4f4" text-anchor="start" font-weight="bold" font-family='"Liberation Sans", sans-serif' textLength="19.90" lengthAdjust="spacingAndGlyphs" >0.000000</text>
<text x="649.80" y="327.59" font-size="5.67" fill="#f4f4f4" text-anchor="start" font-weight="bold" font-family='"Liberation Sans", sans-serif' textLength="8.00" lengthAdjust="spacingAndGlyphs" >165</text>
<text x="665.80" y="327.59" font-size="5.67" fill="#f4f4f4" text-anchor="start" font-weight="bold" font-family='"Liberation Sans", sans-serif' textLength="19.20" lengthAdjust="spacingAndGlyphs" >3.265589</text>
<text x="709.30" y="327.59" font-size="5.67" fill="#f4f4f4" text-anchor="start" font-weight="bold" font-family='"Liberation Sans", sans-serif' textLength="19.90" lengthAdjust="spacingAndGlyphs" >1.076325</text>
<text x="649.80" y="335.22" font-size="5.67" fill="#f4f4f4" text-anchor="start" font-weight="bold" font-family='"Liberation Sans", sans-serif' textLength="8.00" lengthAdjust="spacingAndGlyphs" >166</text>
<text x="665.80" y="335.22" font-size="5.67" fill="#f4f4f4" text-anchor="start" font-weight="bold" font-family='"Liberation Sans", sans-serif' textLength="19.20" lengthAdjust="spacingAndGlyphs" >3.285501</text>
<text x="709.30" y="335.22" font-size="5.67" fill="#f4f4f4" text-anchor="start" font-weight="bold" font-family='"Liberation Sans", sans-serif' textLength="19.90" lengthAdjust="spacingAndGlyphs" >0.358967</text>
<text x="649.80" y="342.85" font-size="5.67" fill="#f4f4f4" text-anchor="start" font-weight="bold" font-family='"Liberation Sans", sans-serif' textLength="8.00" lengthAdjust="spacingAndGlyphs" >167</text>
<text x="665.80" y="342.85" font-size="5.67" fill="#f4f4f4" text-anchor="start" font-weight="bold" font-family='"Liberation Sans", sans-serif' textLength="19.20" lengthAdjust="spacingAndGlyphs" >3.305413</text>
<text x="709.30" y="342.85" font-size="5.67" fill="#f4f4f4" text-anchor="start" font-weight="bold" font-family='"Liberation Sans", sans-serif' textLength="19.90" lengthAdjust="spacingAndGlyphs" >0.356042</text>
<text x="649.80" y="350.48" font-size="5.67" fill="#f4f4f4" text-anchor="start" font-weight="bold" font-family='"Liberation Sans", sans-serif' textLength="8.00" lengthAdjust="spacingAndGlyphs" >168</text>
<text x="665.80" y="350.48" font-size="5.67" fill="#f4f4f4" text-anchor="start" font-weight="bold" font-family='"Liberation Sans", sans-serif' textLength="19.20" lengthAdjust="spacingAndGlyphs" >3.325325</text>
<text x="709.30" y="350.48" font-size="5.67" fill="#f4f4f4" text-anchor="start" font-weight="bold" font-family='"Liberation Sans", sans-serif' textLength="19.90" lengthAdjust="spacingAndGlyphs" >0.513037</text>
<text x="649.80" y="358.11" font-size="5.67" fill="#f4f4f4" text-anchor="start" font-weight="bold" font-family='"Liberation Sans", sans-serif' textLength="8.00" lengthAdjust="spacingAndGlyphs" >169</text>
<text x="665.80" y="358.11" font-size="5.67" fill="#f4f4f4" text-anchor="start" font-weight="bold" font-family='"Liberation Sans", sans-serif' textLength="19.20" lengthAdjust="spacingAndGlyphs" >3.345237</text>
<text x="709.30" y="358.11" font-size="5.67" fill="#f4f4f4" text-anchor="start" font-weight="bold" font-family='"Liberation Sans", sans-serif' textLength="19.90" lengthAdjust="spacingAndGlyphs" >1.023148</text>
<text x="649.80" y="365.74" font-size="5.67" fill="#f4f4f4" text-anchor="start" font-weight="bold" font-family='"Liberation Sans", sans-serif' textLength="8.00" lengthAdjust="spacingAndGlyphs" >170</text>
<text x="665.80" y="365.74" font-size="5.67" fill="#f4f4f4" text-anchor="start" font-weight="bold" font-family='"Liberation Sans", sans-serif' textLength="19.20" lengthAdjust="spacingAndGlyphs" >3.365149</text>
<text x="709.30" y="365.74" font-size="5.67" fill="#f4f4f4" text-anchor="start" font-weight="bold" font-family='"Liberation Sans", sans-serif' textLength="19.90" lengthAdjust="spacingAndGlyphs" >1.188103</text>
<text x="649.80" y="373.37" font-size="5.67" fill="#f4f4f4" text-anchor="start" font-weight="bold" font-family='"Liberation Sans", sans-serif' textLength="8.00" lengthAdjust="spacingAndGlyphs" >171</text>
<text x="665.80" y="373.37" font-size="5.67" fill="#f4f4f4" text-anchor="start" font-weight="bold" font-family='"Liberation Sans", sans-serif' textLength="19.20" lengthAdjust="spacingAndGlyphs" >3.385062</text>
<text x="709.30" y="373.37" font-size="5.67" fill="#f4f4f4" text-anchor="start" font-weight="bold" font-family='"Liberation Sans", sans-serif' textLength="19.90" lengthAdjust="spacingAndGlyphs" >0.331841</text>
<text x="649.80" y="381.00" font-size="5.67" fill="#f4f4f4" text-anchor="start" font-weight="bold" font-family='"Liberation Sans", sans-serif' textLength="8.00" lengthAdjust="spacingAndGlyphs" >172</text>
<text x="665.80" y="381.00" font-size="5.67" fill="#f4f4f4" text-anchor="start" font-weight="bold" font-family='"Liberation Sans", sans-serif' textLength="19.20" lengthAdjust="spacingAndGlyphs" >3.404974</text>
<text x="709.30" y="381.00" font-size="5.67" fill="#f4f4f4" text-anchor="start" font-weight="bold" font-family='"Liberation Sans", sans-serif' textLength="19.90" lengthAdjust="spacingAndGlyphs" >0.988961</text>
<text x="649.80" y="388.63" font-size="5.67" fill="#f4f4f4" text-anchor="start" font-weight="bold" font-family='"Liberation Sans", sans-serif' textLength="8.00" lengthAdjust="spacingAndGlyphs" >173</text>
<text x="665.80" y="388.63" font-size="5.67" fill="#f4f4f4" text-anchor="start" font-weight="bold" font-family='"Liberation Sans", sans-serif' textLength="19.20" lengthAdjust="spacingAndGlyphs" >3.424886</text>
<text x="709.30" y="388.63" font-size="5.67" fill="#f4f4f4" text-anchor="start" font-weight="bold" font-family='"Liberation Sans", sans-serif' textLength="19.90" lengthAdjust="spacingAndGlyphs" >0.992555</text>
<text x="649.80" y="396.26" font-size="5.67" fill="#f4f4f4" text-anchor="start" font-weight="bold" font-family='"Liberation Sans", sans-serif' textLength="8.00" lengthAdjust="spacingAndGlyphs" >174</text>
<text x="665.80" y="396.26" font-size="5.67" fill="#f4f4f4" text-anchor="start" font-weight="bold" font-family='"Liberation Sans", sans-serif' textLength="19.20" lengthAdjust="spacingAndGlyphs" >3.444798</text>
<text x="709.30" y="396.26" font-size="5.67" fill="#f4f4f4" text-anchor="start" font-weight="bold" font-family='"Liberation Sans", sans-serif' textLength="19.90" lengthAdjust="spacingAndGlyphs" >1.282062</text>
</g>
<rect x="648.10" y="204.00" width="99.00" height="13.90" fill="#262628" />
<rect x="648.10" y="217.90" width="99.00" height="0.40" fill="#444446" />
<rect x="658.20" y="204.00" width="0.40" height="13.40" fill="#3c3c3e" />
<rect x="691.20" y="204.00" width="0.40" height="13.40" fill="#3c3c3e" />
<text x="674.80" y="213.60" font-size="5.89" fill="#f4f4f4" text-anchor="middle" font-weight="bold" font-family='"Liberation Sans", sans-serif' textLength="11.50" lengthAdjust="spacingAndGlyphs" >r [Å]</text>
<text x="718.80" y="211.00" font-size="5.89" fill="#f4f4f4" text-anchor="middle" font-weight="bold" font-family='"Liberation Sans", sans-serif' textLength="31.00" lengthAdjust="spacingAndGlyphs" >l-GeSe [PW91]</text>
<text x="718.80" y="216.20" font-size="5.89" fill="#f4f4f4" text-anchor="middle" font-weight="bold" font-family='"Liberation Sans", sans-serif' textLength="29.00" lengthAdjust="spacingAndGlyphs" >g(r) neutrons</text>
<text x="687.60" y="201.30" font-size="5.89" fill="#dcdcdc" text-anchor="middle" font-weight="bold" font-family='"Liberation Sans", sans-serif' textLength="68.00" lengthAdjust="spacingAndGlyphs" >l-GeSe [PW91] - g(r) neutrons</text>
<circle cx="725.60" cy="199.20" r="2.25" fill="#424244" stroke="#525256" stroke-width="0.45"/>
<rect x="724.48" y="198.64" width="2.25" height="1.24" fill="#a88a34"/>
<circle cx="733.30" cy="199.20" r="2.25" fill="#424244" stroke="#525256" stroke-width="0.45"/>
<circle cx="733.30" cy="199.20" r="1.04" fill="#2f8f3a"/>
<circle cx="741.10" cy="199.20" r="2.25" fill="#424244" stroke="#525256" stroke-width="0.45"/>
<circle cx="741.10" cy="199.20" r="1.04" fill="#b0323a"/>
<rect x="648.6" y="394" width="47.6" height="11.4" fill="#4a4a4c" stroke="#303032" stroke-width="0.5"/>
<rect x="697" y="394" width="49.6" height="11.4" fill="#4a4a4c" stroke="#303032" stroke-width="0.5"/>
<circle cx="664.2" cy="399.8" r="2.1" fill="#f0f0f0"/>
<text x="667.50" y="401.80" font-size="5.78" fill="#eee" text-anchor="start" font-weight="normal" font-family='"Liberation Sans", sans-serif' textLength="15.50" lengthAdjust="spacingAndGlyphs" >Cancel</text>
<circle cx="713" cy="398.4" r="1.5" fill="#ddd"/><circle cx="715.6" cy="401" r="1.9" fill="none" stroke="#eee" stroke-width="0.9"/>
<text x="719.50" y="402.00" font-size="5.78" fill="#eee" text-anchor="start" font-weight="normal" font-family='"Liberation Sans", sans-serif' textLength="13.50" lengthAdjust="spacingAndGlyphs" >Apply</text>
<rect x="5.40" y="310.50" width="101.20" height="91.30" fill="#000" opacity="0.22" filter="url(#sh2)"/>
<rect x="7.90" y="311.50" width="96.70" height="89.50" fill="#000" opacity="0.55" filter="url(#sh)"/>
<rect x="6.4" y="309.5" width="99.19999999999999" height="89.30000000000001" rx="1.5" fill="#303032"/>
<rect x="6.40" y="319.50" width="99.20" height="79.30" fill="#252527" />
<text x="56.40" y="316.50" font-size="5.67" fill="#bcbcbc" text-anchor="middle" font-weight="bold" font-family='"Liberation Sans", sans-serif' textLength="61.50" lengthAdjust="spacingAndGlyphs" >Toolboxes - l-GeSe [PW91]</text>
<circle cx="92.70" cy="314.50" r="2.25" fill="#424244" stroke="#525256" stroke-width="0.45"/>
<rect x="91.58" y="313.94" width="2.25" height="1.24" fill="#a88a34"/>
<circle cx="100.70" cy="314.50" r="2.25" fill="#424244" stroke="#525256" stroke-width="0.45"/>
<circle cx="100.70" cy="314.50" r="1.04" fill="#b0323a"/>
<path d="M8.8 322.4 L11.6 322.4 L10.2 324.4 Z" fill="#bbb"/>
<rect x="16.60" y="320.60" width="4.80" height="5.60" fill="#f4f4f4" />
<rect x="18.60" y="321.40" width="0.60" height="4.00" fill="#e03030" />
<rect x="17.40" y="323.60" width="3.20" height="0.50" fill="#e03030" />
<text x="26.40" y="325.30" font-size="5.67" fill="#f0f0f0" text-anchor="start" font-weight="bold" font-family='"Liberation Sans", sans-serif' textLength="18.00" lengthAdjust="spacingAndGlyphs" >g(r)/G(r)</text>
<rect x="6.40" y="327.50" width="99.20" height="7.00" fill="#1c55d8" />
<clipPath id="clt"><rect x="6.4" y="319.5" width="99.6" height="79.3"/></clipPath><g clip-path="url(#clt)">
<text x="26.20" y="333.00" font-size="5.67" fill="#f4f4f4" text-anchor="start" font-weight="bold" font-family='"Liberation Sans", sans-serif' textLength="29.50" lengthAdjust="spacingAndGlyphs" >g(r) neutrons</text>
<path d="M93.8 331.1 L94.8 332.3 L96.6 329.70000000000005" stroke="#fff" stroke-width="0.7" fill="none"/>
<text x="26.20" y="340.66" font-size="5.67" fill="#f4f4f4" text-anchor="start" font-weight="bold" font-family='"Liberation Sans", sans-serif' textLength="29.50" lengthAdjust="spacingAndGlyphs" >G(r) neutrons</text>
<rect x="93.4" y="336.86" width="3.9" height="3.9" rx="0.9" fill="#98989a" stroke="#3a3a3c" stroke-width="0.4"/>
<text x="26.20" y="348.32" font-size="5.67" fill="#f4f4f4" text-anchor="start" font-weight="bold" font-family='"Liberation Sans", sans-serif' textLength="22.50" lengthAdjust="spacingAndGlyphs" >g(r) X-rays</text>
<rect x="93.4" y="344.52" width="3.9" height="3.9" rx="0.9" fill="#98989a" stroke="#3a3a3c" stroke-width="0.4"/>
<text x="26.20" y="355.98" font-size="5.67" fill="#f4f4f4" text-anchor="start" font-weight="bold" font-family='"Liberation Sans", sans-serif' textLength="22.50" lengthAdjust="spacingAndGlyphs" >G(r) X-rays</text>
<rect x="93.4" y="352.18" width="3.9" height="3.9" rx="0.9" fill="#98989a" stroke="#3a3a3c" stroke-width="0.4"/>
<text x="26.20" y="363.64" font-size="5.67" fill="#f4f4f4" text-anchor="start" font-weight="bold" font-family='"Liberation Sans", sans-serif' textLength="24.50" lengthAdjust="spacingAndGlyphs" >g(r)[Ge,Ge]</text>
<rect x="93.4" y="359.84" width="3.9" height="3.9" rx="0.9" fill="#98989a" stroke="#3a3a3c" stroke-width="0.4"/>
<text x="26.20" y="371.30" font-size="5.67" fill="#f4f4f4" text-anchor="start" font-weight="bold" font-family='"Liberation Sans", sans-serif' textLength="24.50" lengthAdjust="spacingAndGlyphs" >G(r)[Ge,Ge]</text>
<rect x="93.4" y="367.50" width="3.9" height="3.9" rx="0.9" fill="#98989a" stroke="#3a3a3c" stroke-width="0.4"/>
<text x="26.20" y="378.96" font-size="5.67" fill="#f4f4f4" text-anchor="start" font-weight="bold" font-family='"Liberation Sans", sans-serif' textLength="27.00" lengthAdjust="spacingAndGlyphs" >dn(r)[Ge,Ge]</text>
<rect x="93.4" y="375.16" width="3.9" height="3.9" rx="0.9" fill="#98989a" stroke="#3a3a3c" stroke-width="0.4"/>
<text x="26.20" y="386.62" font-size="5.67" fill="#f4f4f4" text-anchor="start" font-weight="bold" font-family='"Liberation Sans", sans-serif' textLength="24.00" lengthAdjust="spacingAndGlyphs" >g(r)[Ge,Se]</text>
<rect x="93.4" y="382.82" width="3.9" height="3.9" rx="0.9" fill="#98989a" stroke="#3a3a3c" stroke-width="0.4"/>
<text x="26.20" y="394.28" font-size="5.67" fill="#f4f4f4" text-anchor="start" font-weight="bold" font-family='"Liberation Sans", sans-serif' textLength="24.00" lengthAdjust="spacingAndGlyphs" >G(r)[Ge,Se]</text>
<rect x="93.4" y="390.48" width="3.9" height="3.9" rx="0.9" fill="#98989a" stroke="#3a3a3c" stroke-width="0.4"/>
<text x="26.20" y="401.94" font-size="5.67" fill="#f4f4f4" text-anchor="start" font-weight="bold" font-family='"Liberation Sans", sans-serif' textLength="26.50" lengthAdjust="spacingAndGlyphs" >dn(r)[Ge,Se]</text>
<rect x="93.4" y="398.14" width="3.9" height="3.9" rx="0.9" fill="#98989a" stroke="#3a3a3c" stroke-width="0.4"/>
</g>
</svg></body></html>
